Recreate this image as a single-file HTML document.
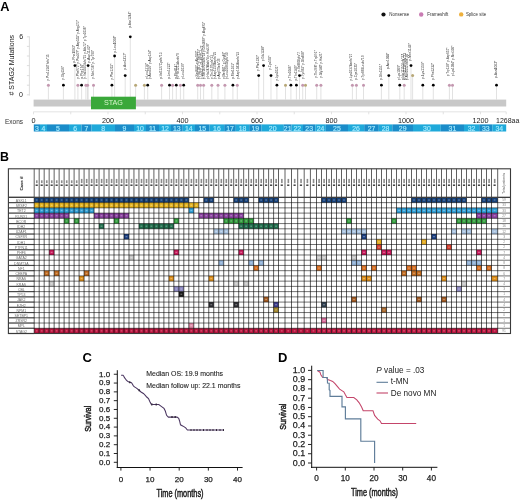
<!DOCTYPE html>
<html><head><meta charset="utf-8"><style>
html,body{margin:0;padding:0;background:#fff;}
svg{display:block;will-change:transform;}
text{font-family:"Liberation Sans", sans-serif;}
</style></head><body>
<svg width="520" height="500" viewBox="0 0 520 500">
<rect x="0" y="0" width="520" height="500" fill="#fff"/>
<text transform="translate(0.20,10.80)" text-anchor="start" fill="#000" style="font-size:12.8px;font-weight:bold;" >A</text>
<text transform="translate(14.20,65.20) rotate(-90)" text-anchor="middle" fill="#222" style="font-size:7.0px;" ># STAG2 Mutations</text>
<text transform="translate(21.10,39.20)" text-anchor="middle" fill="#1a1a1a" style="font-size:7.0px;" >6</text>
<text transform="translate(21.00,96.70)" text-anchor="middle" fill="#1a1a1a" style="font-size:7.0px;" >0</text>
<line x1="29.40" y1="36.40" x2="29.40" y2="95.60" stroke="#d4d4d4" stroke-width="0.8" />
<line x1="26.90" y1="94.80" x2="29.40" y2="94.80" stroke="#d4d4d4" stroke-width="0.8" />
<line x1="26.90" y1="85.20" x2="29.40" y2="85.20" stroke="#d4d4d4" stroke-width="0.8" />
<line x1="26.90" y1="75.60" x2="29.40" y2="75.60" stroke="#d4d4d4" stroke-width="0.8" />
<line x1="26.90" y1="65.60" x2="29.40" y2="65.60" stroke="#d4d4d4" stroke-width="0.8" />
<line x1="26.90" y1="56.00" x2="29.40" y2="56.00" stroke="#d4d4d4" stroke-width="0.8" />
<line x1="26.90" y1="46.40" x2="29.40" y2="46.40" stroke="#d4d4d4" stroke-width="0.8" />
<line x1="26.90" y1="36.80" x2="29.40" y2="36.80" stroke="#d4d4d4" stroke-width="0.8" />
<circle cx="383.50" cy="14.50" r="2.10" fill="#111" />
<text transform="translate(389.30,16.10)" text-anchor="start" fill="#333" style="font-size:4.45px;" >Nonsense</text>
<circle cx="421.20" cy="14.50" r="2.20" fill="#c97cb3" />
<text transform="translate(427.30,16.10)" text-anchor="start" fill="#333" style="font-size:4.45px;" >Frameshift</text>
<circle cx="461.20" cy="14.40" r="2.20" fill="#eeb03c" />
<text transform="translate(465.90,16.10)" text-anchor="start" fill="#333" style="font-size:4.45px;" >Splice site</text>
<line x1="48.40" y1="99.50" x2="48.40" y2="85.20" stroke="#d6d6d6" stroke-width="0.7" />
<line x1="63.40" y1="99.50" x2="63.40" y2="85.20" stroke="#d6d6d6" stroke-width="0.7" />
<line x1="74.90" y1="99.50" x2="74.90" y2="65.60" stroke="#d6d6d6" stroke-width="0.7" />
<line x1="77.90" y1="99.50" x2="77.90" y2="85.20" stroke="#d6d6d6" stroke-width="0.7" />
<line x1="81.60" y1="99.50" x2="81.60" y2="85.20" stroke="#d6d6d6" stroke-width="0.7" />
<line x1="85.90" y1="99.50" x2="85.90" y2="85.20" stroke="#d6d6d6" stroke-width="0.7" />
<line x1="87.60" y1="99.50" x2="87.60" y2="85.20" stroke="#d6d6d6" stroke-width="0.7" />
<line x1="88.10" y1="99.50" x2="88.10" y2="65.60" stroke="#d6d6d6" stroke-width="0.7" />
<line x1="93.50" y1="99.50" x2="93.50" y2="85.20" stroke="#d6d6d6" stroke-width="0.7" />
<line x1="111.90" y1="99.50" x2="111.90" y2="85.20" stroke="#d6d6d6" stroke-width="0.7" />
<line x1="114.60" y1="99.50" x2="114.60" y2="56.00" stroke="#d6d6d6" stroke-width="0.7" />
<line x1="125.20" y1="99.50" x2="125.20" y2="75.60" stroke="#d6d6d6" stroke-width="0.7" />
<line x1="130.30" y1="99.50" x2="130.30" y2="36.80" stroke="#d6d6d6" stroke-width="0.7" />
<line x1="135.60" y1="99.50" x2="135.60" y2="85.20" stroke="#d6d6d6" stroke-width="0.7" />
<line x1="144.40" y1="99.50" x2="144.40" y2="85.20" stroke="#d6d6d6" stroke-width="0.7" />
<line x1="147.70" y1="99.50" x2="147.70" y2="85.20" stroke="#d6d6d6" stroke-width="0.7" />
<line x1="161.60" y1="99.50" x2="161.60" y2="85.20" stroke="#d6d6d6" stroke-width="0.7" />
<line x1="169.50" y1="99.50" x2="169.50" y2="85.20" stroke="#d6d6d6" stroke-width="0.7" />
<line x1="172.60" y1="99.50" x2="172.60" y2="85.20" stroke="#d6d6d6" stroke-width="0.7" />
<line x1="176.30" y1="99.50" x2="176.30" y2="85.20" stroke="#d6d6d6" stroke-width="0.7" />
<line x1="180.40" y1="99.50" x2="180.40" y2="85.20" stroke="#d6d6d6" stroke-width="0.7" />
<line x1="183.70" y1="99.50" x2="183.70" y2="85.20" stroke="#d6d6d6" stroke-width="0.7" />
<line x1="197.70" y1="99.50" x2="197.70" y2="85.20" stroke="#d6d6d6" stroke-width="0.7" />
<line x1="200.50" y1="99.50" x2="200.50" y2="85.20" stroke="#d6d6d6" stroke-width="0.7" />
<line x1="203.60" y1="99.50" x2="203.60" y2="85.20" stroke="#d6d6d6" stroke-width="0.7" />
<line x1="211.80" y1="99.50" x2="211.80" y2="85.20" stroke="#d6d6d6" stroke-width="0.7" />
<line x1="218.00" y1="99.50" x2="218.00" y2="85.20" stroke="#d6d6d6" stroke-width="0.7" />
<line x1="224.90" y1="99.50" x2="224.90" y2="85.20" stroke="#d6d6d6" stroke-width="0.7" />
<line x1="232.90" y1="99.50" x2="232.90" y2="85.20" stroke="#d6d6d6" stroke-width="0.7" />
<line x1="237.30" y1="99.50" x2="237.30" y2="85.20" stroke="#d6d6d6" stroke-width="0.7" />
<line x1="258.70" y1="99.50" x2="258.70" y2="75.60" stroke="#d6d6d6" stroke-width="0.7" />
<line x1="263.60" y1="99.50" x2="263.60" y2="65.60" stroke="#d6d6d6" stroke-width="0.7" />
<line x1="271.00" y1="99.50" x2="271.00" y2="75.60" stroke="#d6d6d6" stroke-width="0.7" />
<line x1="276.90" y1="99.50" x2="276.90" y2="85.20" stroke="#d6d6d6" stroke-width="0.7" />
<line x1="285.50" y1="99.50" x2="285.50" y2="85.20" stroke="#d6d6d6" stroke-width="0.7" />
<line x1="290.90" y1="99.50" x2="290.90" y2="85.20" stroke="#d6d6d6" stroke-width="0.7" />
<line x1="296.40" y1="99.50" x2="296.40" y2="85.20" stroke="#d6d6d6" stroke-width="0.7" />
<line x1="299.50" y1="99.50" x2="299.50" y2="75.60" stroke="#d6d6d6" stroke-width="0.7" />
<line x1="302.70" y1="99.50" x2="302.70" y2="85.20" stroke="#d6d6d6" stroke-width="0.7" />
<line x1="305.50" y1="99.50" x2="305.50" y2="85.20" stroke="#d6d6d6" stroke-width="0.7" />
<line x1="316.70" y1="99.50" x2="316.70" y2="85.20" stroke="#d6d6d6" stroke-width="0.7" />
<line x1="320.90" y1="99.50" x2="320.90" y2="85.20" stroke="#d6d6d6" stroke-width="0.7" />
<line x1="352.40" y1="99.50" x2="352.40" y2="85.20" stroke="#d6d6d6" stroke-width="0.7" />
<line x1="356.40" y1="99.50" x2="356.40" y2="85.20" stroke="#d6d6d6" stroke-width="0.7" />
<line x1="363.50" y1="99.50" x2="363.50" y2="85.20" stroke="#d6d6d6" stroke-width="0.7" />
<line x1="381.40" y1="99.50" x2="381.40" y2="85.20" stroke="#d6d6d6" stroke-width="0.7" />
<line x1="388.80" y1="99.50" x2="388.80" y2="75.60" stroke="#d6d6d6" stroke-width="0.7" />
<line x1="399.80" y1="99.50" x2="399.80" y2="85.20" stroke="#d6d6d6" stroke-width="0.7" />
<line x1="404.20" y1="99.50" x2="404.20" y2="85.20" stroke="#d6d6d6" stroke-width="0.7" />
<line x1="411.00" y1="99.50" x2="411.00" y2="65.60" stroke="#d6d6d6" stroke-width="0.7" />
<line x1="412.60" y1="99.50" x2="412.60" y2="75.60" stroke="#d6d6d6" stroke-width="0.7" />
<line x1="422.80" y1="99.50" x2="422.80" y2="85.20" stroke="#d6d6d6" stroke-width="0.7" />
<line x1="433.30" y1="99.50" x2="433.30" y2="85.20" stroke="#d6d6d6" stroke-width="0.7" />
<line x1="449.40" y1="99.50" x2="449.40" y2="85.20" stroke="#d6d6d6" stroke-width="0.7" />
<line x1="452.50" y1="99.50" x2="452.50" y2="85.20" stroke="#d6d6d6" stroke-width="0.7" />
<line x1="496.50" y1="99.50" x2="496.50" y2="85.20" stroke="#d6d6d6" stroke-width="0.7" />
<text transform="translate(49.30,80.50) rotate(-90)" text-anchor="start" fill="#333" style="font-size:3.1px;" textLength="26.10" lengthAdjust="spacingAndGlyphs" >p.Pro1214Thrfs*15</text>
<text transform="translate(64.30,79.70) rotate(-90)" text-anchor="start" fill="#333" style="font-size:3.1px;" textLength="13.60" lengthAdjust="spacingAndGlyphs" >p.Gly156*</text>
<text transform="translate(74.50,62.70) rotate(-90)" text-anchor="start" fill="#333" style="font-size:3.1px;" textLength="17.80" lengthAdjust="spacingAndGlyphs" >p.Phe1093*</text>
<text transform="translate(78.90,78.70) rotate(-90)" text-anchor="start" fill="#333" style="font-size:3.1px;" textLength="58.70" lengthAdjust="spacingAndGlyphs" >p.Phe972* p.Pro379* p.Asp555* p.Arg272*</text>
<text transform="translate(82.80,78.70) rotate(-90)" text-anchor="start" fill="#333" style="font-size:3.1px;" textLength="14.90" lengthAdjust="spacingAndGlyphs" >p.Phe174*</text>
<text transform="translate(86.30,78.70) rotate(-90)" text-anchor="start" fill="#333" style="font-size:3.1px;" textLength="52.50" lengthAdjust="spacingAndGlyphs" >p.Val516Glufs*15 p.Ala72* p.Tyr1038*</text>
<text transform="translate(90.10,63.00) rotate(-90)" text-anchor="start" fill="#333" style="font-size:3.1px;" textLength="18.10" lengthAdjust="spacingAndGlyphs" >p.Asp1142*</text>
<text transform="translate(93.80,78.70) rotate(-90)" text-anchor="start" fill="#333" style="font-size:3.1px;" textLength="28.70" lengthAdjust="spacingAndGlyphs" >p.Met738* p.Tyr790*</text>
<text transform="translate(113.10,79.60) rotate(-90)" text-anchor="start" fill="#333" style="font-size:3.1px;" textLength="16.10" lengthAdjust="spacingAndGlyphs" >p.Phe1215*</text>
<text transform="translate(115.50,52.70) rotate(-90)" text-anchor="start" fill="#333" style="font-size:3.1px;" textLength="17.10" lengthAdjust="spacingAndGlyphs" >p.Leu1008*</text>
<text transform="translate(126.10,69.70) rotate(-90)" text-anchor="start" fill="#333" style="font-size:3.1px;" textLength="17.00" lengthAdjust="spacingAndGlyphs" >p.Asn1217*</text>
<text transform="translate(130.90,27.80) rotate(-90)" text-anchor="start" fill="#333" style="font-size:3.1px;" textLength="16.40" lengthAdjust="spacingAndGlyphs" >p.Asn1244*</text>
<text transform="translate(147.50,79.00) rotate(-90)" text-anchor="start" fill="#333" style="font-size:3.1px;" textLength="15.90" lengthAdjust="spacingAndGlyphs" >p.Leu1214*</text>
<text transform="translate(151.30,79.00) rotate(-90)" text-anchor="start" fill="#333" style="font-size:3.1px;" textLength="29.10" lengthAdjust="spacingAndGlyphs" >p.Asn316* p.Asp124*</text>
<text transform="translate(162.30,79.00) rotate(-90)" text-anchor="start" fill="#333" style="font-size:3.1px;" textLength="26.40" lengthAdjust="spacingAndGlyphs" >p.Val1127Cysfs*13</text>
<text transform="translate(170.00,79.00) rotate(-90)" text-anchor="start" fill="#333" style="font-size:3.1px;" textLength="16.50" lengthAdjust="spacingAndGlyphs" >p.Leu1222*</text>
<text transform="translate(177.20,79.00) rotate(-90)" text-anchor="start" fill="#333" style="font-size:3.1px;" textLength="14.80" lengthAdjust="spacingAndGlyphs" >p.Phe814*</text>
<text transform="translate(179.40,79.00) rotate(-90)" text-anchor="start" fill="#333" style="font-size:3.1px;" textLength="25.80" lengthAdjust="spacingAndGlyphs" >p.Phe1211Asnfs*9</text>
<text transform="translate(184.30,79.00) rotate(-90)" text-anchor="start" fill="#333" style="font-size:3.1px;" textLength="15.90" lengthAdjust="spacingAndGlyphs" >p.Leu1039*</text>
<text transform="translate(197.70,79.00) rotate(-90)" text-anchor="start" fill="#333" style="font-size:3.1px;" textLength="28.20" lengthAdjust="spacingAndGlyphs" >p.Ser866* p.Ala910*</text>
<text transform="translate(200.30,79.00) rotate(-90)" text-anchor="start" fill="#333" style="font-size:3.1px;" textLength="29.90" lengthAdjust="spacingAndGlyphs" >p.His1081* p.Ser533*</text>
<text transform="translate(202.80,79.00) rotate(-90)" text-anchor="start" fill="#333" style="font-size:3.1px;" textLength="33.30" lengthAdjust="spacingAndGlyphs" >p.Val32* p.Glu882Thrfs*3</text>
<text transform="translate(205.40,79.00) rotate(-90)" text-anchor="start" fill="#333" style="font-size:3.1px;" textLength="57.10" lengthAdjust="spacingAndGlyphs" >p.Ser1091Glufs*14 p.Gln1069* p.Arg495*</text>
<text transform="translate(208.80,79.00) rotate(-90)" text-anchor="start" fill="#333" style="font-size:3.1px;" textLength="35.80" lengthAdjust="spacingAndGlyphs" >p.His247Alafs*4 p.His528*</text>
<text transform="translate(212.70,79.00) rotate(-90)" text-anchor="start" fill="#333" style="font-size:3.1px;" textLength="24.00" lengthAdjust="spacingAndGlyphs" >p.Thr319Tyrfs*13</text>
<text transform="translate(216.40,79.00) rotate(-90)" text-anchor="start" fill="#333" style="font-size:3.1px;" textLength="27.30" lengthAdjust="spacingAndGlyphs" >p.Asp1159Aspfs*25</text>
<text transform="translate(220.20,79.00) rotate(-90)" text-anchor="start" fill="#333" style="font-size:3.1px;" textLength="20.50" lengthAdjust="spacingAndGlyphs" >p.Arg67Ilefs*23</text>
<text transform="translate(224.90,79.00) rotate(-90)" text-anchor="start" fill="#333" style="font-size:3.1px;" textLength="27.30" lengthAdjust="spacingAndGlyphs" >p.Met861* p.Cys46*</text>
<text transform="translate(227.50,79.00) rotate(-90)" text-anchor="start" fill="#333" style="font-size:3.1px;" textLength="26.50" lengthAdjust="spacingAndGlyphs" >p.Leu1086Glyfs*30</text>
<text transform="translate(234.30,79.00) rotate(-90)" text-anchor="start" fill="#333" style="font-size:3.1px;" textLength="16.30" lengthAdjust="spacingAndGlyphs" >p.Met1161*</text>
<text transform="translate(238.50,79.00) rotate(-90)" text-anchor="start" fill="#333" style="font-size:3.1px;" textLength="27.30" lengthAdjust="spacingAndGlyphs" >p.Asp1043Asnfs*22</text>
<text transform="translate(258.70,70.90) rotate(-90)" text-anchor="start" fill="#333" style="font-size:3.1px;" textLength="15.90" lengthAdjust="spacingAndGlyphs" >p.Phe1232*</text>
<text transform="translate(263.60,61.20) rotate(-90)" text-anchor="start" fill="#333" style="font-size:3.1px;" textLength="15.40" lengthAdjust="spacingAndGlyphs" >p.Glu1238*</text>
<text transform="translate(271.20,69.80) rotate(-90)" text-anchor="start" fill="#333" style="font-size:3.1px;" textLength="14.30" lengthAdjust="spacingAndGlyphs" >p.Cys592*</text>
<text transform="translate(278.40,80.60) rotate(-90)" text-anchor="start" fill="#333" style="font-size:3.1px;" textLength="15.40" lengthAdjust="spacingAndGlyphs" >p.Lys1021*</text>
<text transform="translate(291.00,80.60) rotate(-90)" text-anchor="start" fill="#333" style="font-size:3.1px;" textLength="15.40" lengthAdjust="spacingAndGlyphs" >p.Thr1046*</text>
<text transform="translate(296.70,80.60) rotate(-90)" text-anchor="start" fill="#333" style="font-size:3.1px;" textLength="15.40" lengthAdjust="spacingAndGlyphs" >p.Thr1149*</text>
<text transform="translate(299.60,71.50) rotate(-90)" text-anchor="start" fill="#333" style="font-size:3.1px;" textLength="19.40" lengthAdjust="spacingAndGlyphs" >p.Ile88Glyfs*7</text>
<text transform="translate(304.10,78.90) rotate(-90)" text-anchor="start" fill="#333" style="font-size:3.1px;" textLength="27.90" lengthAdjust="spacingAndGlyphs" >p.Tyr963* p.Gln468*</text>
<text transform="translate(316.70,77.80) rotate(-90)" text-anchor="start" fill="#333" style="font-size:3.1px;" textLength="27.40" lengthAdjust="spacingAndGlyphs" >p.Thr268* p.Trp591*</text>
<text transform="translate(322.40,77.80) rotate(-90)" text-anchor="start" fill="#333" style="font-size:3.1px;" textLength="25.70" lengthAdjust="spacingAndGlyphs" >p.Gly140* p.His21*</text>
<text transform="translate(352.20,80.60) rotate(-90)" text-anchor="start" fill="#333" style="font-size:3.1px;" textLength="26.80" lengthAdjust="spacingAndGlyphs" >p.Lys1037Asnfs*27</text>
<text transform="translate(357.10,80.00) rotate(-90)" text-anchor="start" fill="#333" style="font-size:3.1px;" textLength="17.10" lengthAdjust="spacingAndGlyphs" >p.Cys1035*</text>
<text transform="translate(364.10,80.00) rotate(-90)" text-anchor="start" fill="#333" style="font-size:3.1px;" textLength="24.50" lengthAdjust="spacingAndGlyphs" >p.Tyr869Leufs*19</text>
<text transform="translate(381.80,80.00) rotate(-90)" text-anchor="start" fill="#333" style="font-size:3.1px;" textLength="16.00" lengthAdjust="spacingAndGlyphs" >p.Gln1151*</text>
<text transform="translate(389.20,69.20) rotate(-90)" text-anchor="start" fill="#333" style="font-size:3.1px;" textLength="16.50" lengthAdjust="spacingAndGlyphs" >p.Asn1038*</text>
<text transform="translate(399.90,80.20) rotate(-90)" text-anchor="start" fill="#333" style="font-size:3.1px;" textLength="15.50" lengthAdjust="spacingAndGlyphs" >p.Lys1069*</text>
<text transform="translate(403.90,80.20) rotate(-90)" text-anchor="start" fill="#333" style="font-size:3.1px;" textLength="26.20" lengthAdjust="spacingAndGlyphs" >p.His1111Glufs*27</text>
<text transform="translate(405.90,80.20) rotate(-90)" text-anchor="start" fill="#333" style="font-size:3.1px;" textLength="27.20" lengthAdjust="spacingAndGlyphs" >p.Gln1113Phefs*23</text>
<text transform="translate(407.90,80.20) rotate(-90)" text-anchor="start" fill="#333" style="font-size:3.1px;" textLength="26.20" lengthAdjust="spacingAndGlyphs" >p.Asn1052Valfs*24</text>
<text transform="translate(411.30,61.00) rotate(-90)" text-anchor="start" fill="#333" style="font-size:3.1px;" textLength="18.00" lengthAdjust="spacingAndGlyphs" >p.Met1143*</text>
<text transform="translate(423.70,79.00) rotate(-90)" text-anchor="start" fill="#333" style="font-size:3.1px;" textLength="17.40" lengthAdjust="spacingAndGlyphs" >p.Lys1159*</text>
<text transform="translate(434.20,80.00) rotate(-90)" text-anchor="start" fill="#333" style="font-size:3.1px;" textLength="17.10" lengthAdjust="spacingAndGlyphs" >p.Phe1232*</text>
<text transform="translate(449.00,76.30) rotate(-90)" text-anchor="start" fill="#333" style="font-size:3.1px;" textLength="28.80" lengthAdjust="spacingAndGlyphs" >p.Trp128* p.Asp657*</text>
<text transform="translate(454.00,76.30) rotate(-90)" text-anchor="start" fill="#333" style="font-size:3.1px;" textLength="30.70" lengthAdjust="spacingAndGlyphs" >p.Lys1084* p.Met306*</text>
<text transform="translate(497.40,78.00) rotate(-90)" text-anchor="start" fill="#333" style="font-size:3.1px;" textLength="17.40" lengthAdjust="spacingAndGlyphs" >p.Asn1063*</text>
<circle cx="48.40" cy="85.20" r="1.50" fill="#c498b0" />
<circle cx="63.40" cy="85.20" r="1.40" fill="#000000" />
<circle cx="74.90" cy="65.60" r="1.40" fill="#000000" />
<circle cx="77.90" cy="85.20" r="1.50" fill="#c498b0" />
<circle cx="81.60" cy="85.20" r="1.40" fill="#000000" />
<circle cx="85.90" cy="85.20" r="1.50" fill="#c498b0" />
<circle cx="87.60" cy="85.20" r="1.50" fill="#c498b0" />
<circle cx="88.10" cy="65.60" r="1.40" fill="#000000" />
<circle cx="93.50" cy="85.20" r="1.50" fill="#c498b0" />
<circle cx="111.90" cy="85.20" r="1.40" fill="#000000" />
<circle cx="114.60" cy="56.00" r="1.40" fill="#000000" />
<circle cx="125.20" cy="75.60" r="1.40" fill="#000000" />
<circle cx="130.30" cy="36.80" r="1.40" fill="#000000" />
<circle cx="135.60" cy="85.20" r="1.50" fill="#b8a878" />
<circle cx="144.40" cy="85.20" r="1.50" fill="#b8a878" />
<circle cx="147.70" cy="85.20" r="1.40" fill="#000000" />
<circle cx="161.60" cy="85.20" r="1.50" fill="#c498b0" />
<circle cx="169.50" cy="85.20" r="1.40" fill="#000000" />
<circle cx="172.60" cy="85.20" r="1.50" fill="#c498b0" />
<circle cx="176.30" cy="85.20" r="1.40" fill="#000000" />
<circle cx="180.40" cy="85.20" r="1.50" fill="#c498b0" />
<circle cx="183.70" cy="85.20" r="1.40" fill="#000000" />
<circle cx="197.70" cy="85.20" r="1.50" fill="#c498b0" />
<circle cx="200.50" cy="85.20" r="1.50" fill="#c498b0" />
<circle cx="203.60" cy="85.20" r="1.50" fill="#c498b0" />
<circle cx="211.80" cy="85.20" r="1.50" fill="#c498b0" />
<circle cx="218.00" cy="85.20" r="1.50" fill="#c498b0" />
<circle cx="224.90" cy="85.20" r="1.50" fill="#c498b0" />
<circle cx="232.90" cy="85.20" r="1.40" fill="#000000" />
<circle cx="237.30" cy="85.20" r="1.50" fill="#c498b0" />
<circle cx="258.70" cy="75.60" r="1.40" fill="#000000" />
<circle cx="263.60" cy="65.60" r="1.40" fill="#000000" />
<circle cx="271.00" cy="75.60" r="1.40" fill="#000000" />
<circle cx="276.90" cy="85.20" r="1.40" fill="#000000" />
<circle cx="285.50" cy="85.20" r="1.50" fill="#b8a878" />
<circle cx="290.90" cy="85.20" r="1.40" fill="#000000" />
<circle cx="296.40" cy="85.20" r="1.40" fill="#000000" />
<circle cx="299.50" cy="75.60" r="1.40" fill="#000000" />
<circle cx="302.70" cy="85.20" r="1.50" fill="#c498b0" />
<circle cx="305.50" cy="85.20" r="1.50" fill="#b8a878" />
<circle cx="316.70" cy="85.20" r="1.50" fill="#c498b0" />
<circle cx="320.90" cy="85.20" r="1.50" fill="#c498b0" />
<circle cx="352.40" cy="85.20" r="1.50" fill="#c498b0" />
<circle cx="356.40" cy="85.20" r="1.50" fill="#c498b0" />
<circle cx="363.50" cy="85.20" r="1.50" fill="#c498b0" />
<circle cx="381.40" cy="85.20" r="1.40" fill="#000000" />
<circle cx="388.80" cy="75.60" r="1.40" fill="#000000" />
<circle cx="399.80" cy="85.20" r="1.40" fill="#000000" />
<circle cx="404.20" cy="85.20" r="1.50" fill="#c498b0" />
<circle cx="411.00" cy="65.60" r="1.40" fill="#000000" />
<circle cx="412.60" cy="75.60" r="1.50" fill="#b8a878" />
<circle cx="422.80" cy="85.20" r="1.40" fill="#000000" />
<circle cx="433.30" cy="85.20" r="1.40" fill="#000000" />
<circle cx="449.40" cy="85.20" r="1.50" fill="#c498b0" />
<circle cx="452.50" cy="85.20" r="1.50" fill="#c498b0" />
<circle cx="496.50" cy="85.20" r="1.40" fill="#000000" />
<rect x="33.60" y="99.60" width="472.60" height="6.90" fill="#c8c8c8" />
<rect x="91.00" y="96.70" width="44.90" height="12.60" fill="#3aa83a" />
<text transform="translate(113.40,105.40)" text-anchor="middle" fill="#d8f5cc" style="font-size:7.2px;" >STAG</text>
<line x1="33.50" y1="111.80" x2="506.20" y2="111.80" stroke="#dcdcdc" stroke-width="0.8" />
<line x1="33.50" y1="111.80" x2="33.50" y2="114.30" stroke="#dcdcdc" stroke-width="0.8" />
<line x1="70.75" y1="111.80" x2="70.75" y2="114.30" stroke="#dcdcdc" stroke-width="0.8" />
<line x1="108.00" y1="111.80" x2="108.00" y2="114.30" stroke="#dcdcdc" stroke-width="0.8" />
<line x1="145.25" y1="111.80" x2="145.25" y2="114.30" stroke="#dcdcdc" stroke-width="0.8" />
<line x1="182.50" y1="111.80" x2="182.50" y2="114.30" stroke="#dcdcdc" stroke-width="0.8" />
<line x1="219.75" y1="111.80" x2="219.75" y2="114.30" stroke="#dcdcdc" stroke-width="0.8" />
<line x1="257.00" y1="111.80" x2="257.00" y2="114.30" stroke="#dcdcdc" stroke-width="0.8" />
<line x1="294.25" y1="111.80" x2="294.25" y2="114.30" stroke="#dcdcdc" stroke-width="0.8" />
<line x1="331.50" y1="111.80" x2="331.50" y2="114.30" stroke="#dcdcdc" stroke-width="0.8" />
<line x1="368.75" y1="111.80" x2="368.75" y2="114.30" stroke="#dcdcdc" stroke-width="0.8" />
<line x1="406.00" y1="111.80" x2="406.00" y2="114.30" stroke="#dcdcdc" stroke-width="0.8" />
<line x1="443.25" y1="111.80" x2="443.25" y2="114.30" stroke="#dcdcdc" stroke-width="0.8" />
<line x1="480.50" y1="111.80" x2="480.50" y2="114.30" stroke="#dcdcdc" stroke-width="0.8" />
<line x1="506.20" y1="111.80" x2="506.20" y2="114.30" stroke="#dcdcdc" stroke-width="0.8" />
<text transform="translate(33.50,122.70) scale(1.120,1)" text-anchor="middle" fill="#222" style="font-size:6.5px;" >0</text>
<text transform="translate(108.00,122.70) scale(1.120,1)" text-anchor="middle" fill="#222" style="font-size:6.5px;" >200</text>
<text transform="translate(182.50,122.70) scale(1.120,1)" text-anchor="middle" fill="#222" style="font-size:6.5px;" >400</text>
<text transform="translate(257.00,122.70) scale(1.120,1)" text-anchor="middle" fill="#222" style="font-size:6.5px;" >600</text>
<text transform="translate(331.50,122.70) scale(1.120,1)" text-anchor="middle" fill="#222" style="font-size:6.5px;" >800</text>
<text transform="translate(406.00,122.70) scale(1.120,1)" text-anchor="middle" fill="#222" style="font-size:6.5px;" >1000</text>
<text transform="translate(480.50,122.70) scale(1.120,1)" text-anchor="middle" fill="#222" style="font-size:6.5px;" >1200</text>
<text transform="translate(496.00,122.70) scale(1.080,1)" text-anchor="start" fill="#222" style="font-size:6.5px;" >1268aa</text>
<text transform="translate(5.00,124.30)" text-anchor="start" fill="#333" style="font-size:6.5px;" >Exons</text>
<rect x="33.80" y="124.40" width="6.20" height="7.10" fill="#1a8cc9" />
<text transform="translate(36.90,131.00)" text-anchor="middle" fill="#a6ecff" style="font-size:6.9px;stroke:#a6ecff;stroke-width:0.15px;" >3</text>
<rect x="40.00" y="124.40" width="7.00" height="7.10" fill="#1fa9da" />
<text transform="translate(43.50,131.00)" text-anchor="middle" fill="#a6ecff" style="font-size:6.9px;stroke:#a6ecff;stroke-width:0.15px;" >4</text>
<rect x="47.00" y="124.40" width="22.00" height="7.10" fill="#1a8cc9" />
<text transform="translate(58.00,131.00)" text-anchor="middle" fill="#a6ecff" style="font-size:6.9px;stroke:#a6ecff;stroke-width:0.15px;" >5</text>
<rect x="69.00" y="124.40" width="12.50" height="7.10" fill="#1fa9da" />
<text transform="translate(75.25,131.00)" text-anchor="middle" fill="#a6ecff" style="font-size:6.9px;stroke:#a6ecff;stroke-width:0.15px;" >6</text>
<rect x="81.50" y="124.40" width="10.00" height="7.10" fill="#1a8cc9" />
<text transform="translate(86.50,131.00)" text-anchor="middle" fill="#a6ecff" style="font-size:6.9px;stroke:#a6ecff;stroke-width:0.15px;" >7</text>
<rect x="91.50" y="124.40" width="23.50" height="7.10" fill="#1fa9da" />
<text transform="translate(103.25,131.00)" text-anchor="middle" fill="#a6ecff" style="font-size:6.9px;stroke:#a6ecff;stroke-width:0.15px;" >8</text>
<rect x="115.00" y="124.40" width="19.00" height="7.10" fill="#1a8cc9" />
<text transform="translate(124.50,131.00)" text-anchor="middle" fill="#a6ecff" style="font-size:6.9px;stroke:#a6ecff;stroke-width:0.15px;" >9</text>
<rect x="134.00" y="124.40" width="12.00" height="7.10" fill="#1fa9da" />
<text transform="translate(140.00,131.00)" text-anchor="middle" fill="#a6ecff" style="font-size:6.9px;stroke:#a6ecff;stroke-width:0.15px;" >10</text>
<rect x="146.00" y="124.40" width="13.00" height="7.10" fill="#1a8cc9" />
<text transform="translate(152.50,131.00)" text-anchor="middle" fill="#a6ecff" style="font-size:6.9px;stroke:#a6ecff;stroke-width:0.15px;" >11</text>
<rect x="159.00" y="124.40" width="12.00" height="7.10" fill="#1fa9da" />
<text transform="translate(165.00,131.00)" text-anchor="middle" fill="#a6ecff" style="font-size:6.9px;stroke:#a6ecff;stroke-width:0.15px;" >12</text>
<rect x="171.00" y="124.40" width="11.70" height="7.10" fill="#1a8cc9" />
<text transform="translate(176.85,131.00)" text-anchor="middle" fill="#a6ecff" style="font-size:6.9px;stroke:#a6ecff;stroke-width:0.15px;" >13</text>
<rect x="182.70" y="124.40" width="12.30" height="7.10" fill="#1fa9da" />
<text transform="translate(188.85,131.00)" text-anchor="middle" fill="#a6ecff" style="font-size:6.9px;stroke:#a6ecff;stroke-width:0.15px;" >14</text>
<rect x="195.00" y="124.40" width="14.60" height="7.10" fill="#1a8cc9" />
<text transform="translate(202.30,131.00)" text-anchor="middle" fill="#a6ecff" style="font-size:6.9px;stroke:#a6ecff;stroke-width:0.15px;" >15</text>
<rect x="209.60" y="124.40" width="14.60" height="7.10" fill="#1fa9da" />
<text transform="translate(216.90,131.00)" text-anchor="middle" fill="#a6ecff" style="font-size:6.9px;stroke:#a6ecff;stroke-width:0.15px;" >16</text>
<rect x="224.20" y="124.40" width="11.60" height="7.10" fill="#1a8cc9" />
<text transform="translate(230.00,131.00)" text-anchor="middle" fill="#a6ecff" style="font-size:6.9px;stroke:#a6ecff;stroke-width:0.15px;" >17</text>
<rect x="235.80" y="124.40" width="13.40" height="7.10" fill="#1fa9da" />
<text transform="translate(242.50,131.00)" text-anchor="middle" fill="#a6ecff" style="font-size:6.9px;stroke:#a6ecff;stroke-width:0.15px;" >18</text>
<rect x="249.20" y="124.40" width="12.30" height="7.10" fill="#1a8cc9" />
<text transform="translate(255.35,131.00)" text-anchor="middle" fill="#a6ecff" style="font-size:6.9px;stroke:#a6ecff;stroke-width:0.15px;" >19</text>
<rect x="261.50" y="124.40" width="22.30" height="7.10" fill="#1fa9da" />
<text transform="translate(272.65,131.00)" text-anchor="middle" fill="#a6ecff" style="font-size:6.9px;stroke:#a6ecff;stroke-width:0.15px;" >20</text>
<rect x="283.80" y="124.40" width="7.70" height="7.10" fill="#1a8cc9" />
<text transform="translate(287.65,131.00)" text-anchor="middle" fill="#a6ecff" style="font-size:6.9px;stroke:#a6ecff;stroke-width:0.15px;" >21</text>
<rect x="291.50" y="124.40" width="11.50" height="7.10" fill="#1fa9da" />
<text transform="translate(297.25,131.00)" text-anchor="middle" fill="#a6ecff" style="font-size:6.9px;stroke:#a6ecff;stroke-width:0.15px;" >22</text>
<rect x="303.00" y="124.40" width="12.40" height="7.10" fill="#1a8cc9" />
<text transform="translate(309.20,131.00)" text-anchor="middle" fill="#a6ecff" style="font-size:6.9px;stroke:#a6ecff;stroke-width:0.15px;" >23</text>
<rect x="315.40" y="124.40" width="10.40" height="7.10" fill="#1fa9da" />
<text transform="translate(320.60,131.00)" text-anchor="middle" fill="#a6ecff" style="font-size:6.9px;stroke:#a6ecff;stroke-width:0.15px;" >24</text>
<rect x="325.80" y="124.40" width="22.20" height="7.10" fill="#1a8cc9" />
<text transform="translate(336.90,131.00)" text-anchor="middle" fill="#a6ecff" style="font-size:6.9px;stroke:#a6ecff;stroke-width:0.15px;" >25</text>
<rect x="348.00" y="124.40" width="16.20" height="7.10" fill="#1fa9da" />
<text transform="translate(356.10,131.00)" text-anchor="middle" fill="#a6ecff" style="font-size:6.9px;stroke:#a6ecff;stroke-width:0.15px;" >26</text>
<rect x="364.20" y="124.40" width="14.60" height="7.10" fill="#1a8cc9" />
<text transform="translate(371.50,131.00)" text-anchor="middle" fill="#a6ecff" style="font-size:6.9px;stroke:#a6ecff;stroke-width:0.15px;" >27</text>
<rect x="378.80" y="124.40" width="13.50" height="7.10" fill="#1fa9da" />
<text transform="translate(385.55,131.00)" text-anchor="middle" fill="#a6ecff" style="font-size:6.9px;stroke:#a6ecff;stroke-width:0.15px;" >28</text>
<rect x="392.30" y="124.40" width="20.70" height="7.10" fill="#1a8cc9" />
<text transform="translate(402.65,131.00)" text-anchor="middle" fill="#a6ecff" style="font-size:6.9px;stroke:#a6ecff;stroke-width:0.15px;" >29</text>
<rect x="413.00" y="124.40" width="27.80" height="7.10" fill="#1fa9da" />
<text transform="translate(426.90,131.00)" text-anchor="middle" fill="#a6ecff" style="font-size:6.9px;stroke:#a6ecff;stroke-width:0.15px;" >30</text>
<rect x="440.80" y="124.40" width="23.20" height="7.10" fill="#1a8cc9" />
<text transform="translate(452.40,131.00)" text-anchor="middle" fill="#a6ecff" style="font-size:6.9px;stroke:#a6ecff;stroke-width:0.15px;" >31</text>
<rect x="464.00" y="124.40" width="15.20" height="7.10" fill="#1fa9da" />
<text transform="translate(471.60,131.00)" text-anchor="middle" fill="#a6ecff" style="font-size:6.9px;stroke:#a6ecff;stroke-width:0.15px;" >32</text>
<rect x="479.20" y="124.40" width="13.10" height="7.10" fill="#1a8cc9" />
<text transform="translate(485.75,131.00)" text-anchor="middle" fill="#a6ecff" style="font-size:6.9px;stroke:#a6ecff;stroke-width:0.15px;" >33</text>
<rect x="492.30" y="124.40" width="13.90" height="7.10" fill="#1fa9da" />
<text transform="translate(499.25,131.00)" text-anchor="middle" fill="#a6ecff" style="font-size:6.9px;stroke:#a6ecff;stroke-width:0.15px;" >34</text>
<text transform="translate(0.10,160.70)" text-anchor="start" fill="#000" style="font-size:12.4px;font-weight:bold;" >B</text>
<rect x="8.40" y="168.80" width="502.10" height="164.70" fill="#ffffff" />
<rect x="34.20" y="197.40" width="4.99" height="5.23" fill="#143f78" />
<rect x="35.79" y="199.42" width="1.80" height="1.20" fill="rgba(255,255,255,0.35)" />
<rect x="39.19" y="197.40" width="4.99" height="5.23" fill="#143f78" />
<rect x="40.78" y="199.42" width="1.80" height="1.20" fill="rgba(255,255,255,0.35)" />
<rect x="44.18" y="197.40" width="4.99" height="5.23" fill="#143f78" />
<rect x="45.77" y="199.42" width="1.80" height="1.20" fill="rgba(255,255,255,0.35)" />
<rect x="49.16" y="197.40" width="4.99" height="5.23" fill="#143f78" />
<rect x="50.76" y="199.42" width="1.80" height="1.20" fill="rgba(255,255,255,0.35)" />
<rect x="54.15" y="197.40" width="4.99" height="5.23" fill="#143f78" />
<rect x="55.74" y="199.42" width="1.80" height="1.20" fill="rgba(255,255,255,0.35)" />
<rect x="59.14" y="197.40" width="4.99" height="5.23" fill="#143f78" />
<rect x="60.73" y="199.42" width="1.80" height="1.20" fill="rgba(255,255,255,0.35)" />
<rect x="64.12" y="197.40" width="4.99" height="5.23" fill="#143f78" />
<rect x="65.72" y="199.42" width="1.80" height="1.20" fill="rgba(255,255,255,0.35)" />
<rect x="69.11" y="197.40" width="4.99" height="5.23" fill="#143f78" />
<rect x="70.71" y="199.42" width="1.80" height="1.20" fill="rgba(255,255,255,0.35)" />
<rect x="74.10" y="197.40" width="4.99" height="5.23" fill="#143f78" />
<rect x="75.69" y="199.42" width="1.80" height="1.20" fill="rgba(255,255,255,0.35)" />
<rect x="79.09" y="197.40" width="4.99" height="5.23" fill="#143f78" />
<rect x="80.68" y="199.42" width="1.80" height="1.20" fill="rgba(255,255,255,0.35)" />
<rect x="84.08" y="197.40" width="4.99" height="5.23" fill="#143f78" />
<rect x="85.67" y="199.42" width="1.80" height="1.20" fill="rgba(255,255,255,0.35)" />
<rect x="89.06" y="197.40" width="4.99" height="5.23" fill="#143f78" />
<rect x="90.66" y="199.42" width="1.80" height="1.20" fill="rgba(255,255,255,0.35)" />
<rect x="94.05" y="197.40" width="4.99" height="5.23" fill="#143f78" />
<rect x="95.64" y="199.42" width="1.80" height="1.20" fill="rgba(255,255,255,0.35)" />
<rect x="99.04" y="197.40" width="4.99" height="5.23" fill="#143f78" />
<rect x="100.63" y="199.42" width="1.80" height="1.20" fill="rgba(255,255,255,0.35)" />
<rect x="104.03" y="197.40" width="4.99" height="5.23" fill="#143f78" />
<rect x="105.62" y="199.42" width="1.80" height="1.20" fill="rgba(255,255,255,0.35)" />
<rect x="109.01" y="197.40" width="4.99" height="5.23" fill="#143f78" />
<rect x="110.61" y="199.42" width="1.80" height="1.20" fill="rgba(255,255,255,0.35)" />
<rect x="114.00" y="197.40" width="4.99" height="5.23" fill="#143f78" />
<rect x="115.59" y="199.42" width="1.80" height="1.20" fill="rgba(255,255,255,0.35)" />
<rect x="118.99" y="197.40" width="4.99" height="5.23" fill="#143f78" />
<rect x="120.58" y="199.42" width="1.80" height="1.20" fill="rgba(255,255,255,0.35)" />
<rect x="123.97" y="197.40" width="4.99" height="5.23" fill="#143f78" />
<rect x="125.57" y="199.42" width="1.80" height="1.20" fill="rgba(255,255,255,0.35)" />
<rect x="128.96" y="197.40" width="4.99" height="5.23" fill="#143f78" />
<rect x="130.56" y="199.42" width="1.80" height="1.20" fill="rgba(255,255,255,0.35)" />
<rect x="133.95" y="197.40" width="4.99" height="5.23" fill="#143f78" />
<rect x="135.54" y="199.42" width="1.80" height="1.20" fill="rgba(255,255,255,0.35)" />
<rect x="138.94" y="197.40" width="4.99" height="5.23" fill="#143f78" />
<rect x="140.53" y="199.42" width="1.80" height="1.20" fill="rgba(255,255,255,0.35)" />
<rect x="143.93" y="197.40" width="4.99" height="5.23" fill="#143f78" />
<rect x="145.52" y="199.42" width="1.80" height="1.20" fill="rgba(255,255,255,0.35)" />
<rect x="148.91" y="197.40" width="4.99" height="5.23" fill="#143f78" />
<rect x="150.51" y="199.42" width="1.80" height="1.20" fill="rgba(255,255,255,0.35)" />
<rect x="153.90" y="197.40" width="4.99" height="5.23" fill="#143f78" />
<rect x="155.49" y="199.42" width="1.80" height="1.20" fill="rgba(255,255,255,0.35)" />
<rect x="158.89" y="197.40" width="4.99" height="5.23" fill="#143f78" />
<rect x="160.48" y="199.42" width="1.80" height="1.20" fill="rgba(255,255,255,0.35)" />
<rect x="163.88" y="197.40" width="4.99" height="5.23" fill="#143f78" />
<rect x="165.47" y="199.42" width="1.80" height="1.20" fill="rgba(255,255,255,0.35)" />
<rect x="168.86" y="197.40" width="4.99" height="5.23" fill="#143f78" />
<rect x="170.46" y="199.42" width="1.80" height="1.20" fill="rgba(255,255,255,0.35)" />
<rect x="173.85" y="197.40" width="4.99" height="5.23" fill="#143f78" />
<rect x="175.44" y="199.42" width="1.80" height="1.20" fill="rgba(255,255,255,0.35)" />
<rect x="178.84" y="197.40" width="4.99" height="5.23" fill="#143f78" />
<rect x="180.43" y="199.42" width="1.80" height="1.20" fill="rgba(255,255,255,0.35)" />
<rect x="183.82" y="197.40" width="4.99" height="5.23" fill="#143f78" />
<rect x="185.42" y="199.42" width="1.80" height="1.20" fill="rgba(255,255,255,0.35)" />
<rect x="203.77" y="197.40" width="4.99" height="5.23" fill="#143f78" />
<rect x="205.37" y="199.42" width="1.80" height="1.20" fill="rgba(255,255,255,0.35)" />
<rect x="208.76" y="197.40" width="4.99" height="5.23" fill="#143f78" />
<rect x="210.36" y="199.42" width="1.80" height="1.20" fill="rgba(255,255,255,0.35)" />
<rect x="233.70" y="197.40" width="4.99" height="5.23" fill="#143f78" />
<rect x="235.29" y="199.42" width="1.80" height="1.20" fill="rgba(255,255,255,0.35)" />
<rect x="238.69" y="197.40" width="4.99" height="5.23" fill="#143f78" />
<rect x="240.28" y="199.42" width="1.80" height="1.20" fill="rgba(255,255,255,0.35)" />
<rect x="243.68" y="197.40" width="4.99" height="5.23" fill="#143f78" />
<rect x="245.27" y="199.42" width="1.80" height="1.20" fill="rgba(255,255,255,0.35)" />
<rect x="258.64" y="197.40" width="4.99" height="5.23" fill="#143f78" />
<rect x="260.23" y="199.42" width="1.80" height="1.20" fill="rgba(255,255,255,0.35)" />
<rect x="263.62" y="197.40" width="4.99" height="5.23" fill="#143f78" />
<rect x="265.22" y="199.42" width="1.80" height="1.20" fill="rgba(255,255,255,0.35)" />
<rect x="268.61" y="197.40" width="4.99" height="5.23" fill="#143f78" />
<rect x="270.21" y="199.42" width="1.80" height="1.20" fill="rgba(255,255,255,0.35)" />
<rect x="273.60" y="197.40" width="4.90" height="5.23" fill="#143f78" />
<rect x="275.15" y="199.42" width="1.80" height="1.20" fill="rgba(255,255,255,0.35)" />
<rect x="321.50" y="197.40" width="5.00" height="5.23" fill="#143f78" />
<rect x="323.10" y="199.42" width="1.80" height="1.20" fill="rgba(255,255,255,0.35)" />
<rect x="326.50" y="197.40" width="5.00" height="5.23" fill="#143f78" />
<rect x="328.10" y="199.42" width="1.80" height="1.20" fill="rgba(255,255,255,0.35)" />
<rect x="331.50" y="197.40" width="5.00" height="5.23" fill="#143f78" />
<rect x="333.10" y="199.42" width="1.80" height="1.20" fill="rgba(255,255,255,0.35)" />
<rect x="336.50" y="197.40" width="5.00" height="5.23" fill="#143f78" />
<rect x="338.10" y="199.42" width="1.80" height="1.20" fill="rgba(255,255,255,0.35)" />
<rect x="341.50" y="197.40" width="5.00" height="5.23" fill="#143f78" />
<rect x="343.10" y="199.42" width="1.80" height="1.20" fill="rgba(255,255,255,0.35)" />
<rect x="411.50" y="197.40" width="5.00" height="5.23" fill="#143f78" />
<rect x="413.10" y="199.42" width="1.80" height="1.20" fill="rgba(255,255,255,0.35)" />
<rect x="416.50" y="197.40" width="5.00" height="5.23" fill="#143f78" />
<rect x="418.10" y="199.42" width="1.80" height="1.20" fill="rgba(255,255,255,0.35)" />
<rect x="421.50" y="197.40" width="5.00" height="5.23" fill="#143f78" />
<rect x="423.10" y="199.42" width="1.80" height="1.20" fill="rgba(255,255,255,0.35)" />
<rect x="426.50" y="197.40" width="5.00" height="5.23" fill="#143f78" />
<rect x="428.10" y="199.42" width="1.80" height="1.20" fill="rgba(255,255,255,0.35)" />
<rect x="431.50" y="197.40" width="5.00" height="5.23" fill="#143f78" />
<rect x="433.10" y="199.42" width="1.80" height="1.20" fill="rgba(255,255,255,0.35)" />
<rect x="436.50" y="197.40" width="5.00" height="5.23" fill="#143f78" />
<rect x="438.10" y="199.42" width="1.80" height="1.20" fill="rgba(255,255,255,0.35)" />
<rect x="441.50" y="197.40" width="5.00" height="5.23" fill="#143f78" />
<rect x="443.10" y="199.42" width="1.80" height="1.20" fill="rgba(255,255,255,0.35)" />
<rect x="446.50" y="197.40" width="5.00" height="5.23" fill="#143f78" />
<rect x="448.10" y="199.42" width="1.80" height="1.20" fill="rgba(255,255,255,0.35)" />
<rect x="451.50" y="197.40" width="5.00" height="5.23" fill="#143f78" />
<rect x="453.10" y="199.42" width="1.80" height="1.20" fill="rgba(255,255,255,0.35)" />
<rect x="456.50" y="197.40" width="5.00" height="5.23" fill="#143f78" />
<rect x="458.10" y="199.42" width="1.80" height="1.20" fill="rgba(255,255,255,0.35)" />
<rect x="461.50" y="197.40" width="5.00" height="5.23" fill="#143f78" />
<rect x="463.10" y="199.42" width="1.80" height="1.20" fill="rgba(255,255,255,0.35)" />
<rect x="481.50" y="197.40" width="5.00" height="5.23" fill="#143f78" />
<rect x="483.10" y="199.42" width="1.80" height="1.20" fill="rgba(255,255,255,0.35)" />
<rect x="486.50" y="197.40" width="5.00" height="5.23" fill="#143f78" />
<rect x="488.10" y="199.42" width="1.80" height="1.20" fill="rgba(255,255,255,0.35)" />
<rect x="491.50" y="197.40" width="6.20" height="5.23" fill="#143f78" />
<rect x="493.70" y="199.42" width="1.80" height="1.20" fill="rgba(255,255,255,0.35)" />
<rect x="34.20" y="202.63" width="4.99" height="5.23" fill="#e6b41c" />
<rect x="35.79" y="204.65" width="1.80" height="1.20" fill="rgba(255,255,255,0.35)" />
<rect x="39.19" y="202.63" width="4.99" height="5.23" fill="#e6b41c" />
<rect x="40.78" y="204.65" width="1.80" height="1.20" fill="rgba(255,255,255,0.35)" />
<rect x="44.18" y="202.63" width="4.99" height="5.23" fill="#e6b41c" />
<rect x="45.77" y="204.65" width="1.80" height="1.20" fill="rgba(255,255,255,0.35)" />
<rect x="49.16" y="202.63" width="4.99" height="5.23" fill="#e6b41c" />
<rect x="50.76" y="204.65" width="1.80" height="1.20" fill="rgba(255,255,255,0.35)" />
<rect x="54.15" y="202.63" width="4.99" height="5.23" fill="#e6b41c" />
<rect x="55.74" y="204.65" width="1.80" height="1.20" fill="rgba(255,255,255,0.35)" />
<rect x="59.14" y="202.63" width="4.99" height="5.23" fill="#e6b41c" />
<rect x="60.73" y="204.65" width="1.80" height="1.20" fill="rgba(255,255,255,0.35)" />
<rect x="64.12" y="202.63" width="4.99" height="5.23" fill="#e6b41c" />
<rect x="65.72" y="204.65" width="1.80" height="1.20" fill="rgba(255,255,255,0.35)" />
<rect x="69.11" y="202.63" width="4.99" height="5.23" fill="#e6b41c" />
<rect x="70.71" y="204.65" width="1.80" height="1.20" fill="rgba(255,255,255,0.35)" />
<rect x="74.10" y="202.63" width="4.99" height="5.23" fill="#e6b41c" />
<rect x="75.69" y="204.65" width="1.80" height="1.20" fill="rgba(255,255,255,0.35)" />
<rect x="79.09" y="202.63" width="4.99" height="5.23" fill="#e6b41c" />
<rect x="80.68" y="204.65" width="1.80" height="1.20" fill="rgba(255,255,255,0.35)" />
<rect x="84.08" y="202.63" width="4.99" height="5.23" fill="#e6b41c" />
<rect x="85.67" y="204.65" width="1.80" height="1.20" fill="rgba(255,255,255,0.35)" />
<rect x="89.06" y="202.63" width="4.99" height="5.23" fill="#e6b41c" />
<rect x="90.66" y="204.65" width="1.80" height="1.20" fill="rgba(255,255,255,0.35)" />
<rect x="94.05" y="202.63" width="4.99" height="5.23" fill="#e6b41c" />
<rect x="95.64" y="204.65" width="1.80" height="1.20" fill="rgba(255,255,255,0.35)" />
<rect x="99.04" y="202.63" width="4.99" height="5.23" fill="#e6b41c" />
<rect x="100.63" y="204.65" width="1.80" height="1.20" fill="rgba(255,255,255,0.35)" />
<rect x="104.03" y="202.63" width="4.99" height="5.23" fill="#e6b41c" />
<rect x="105.62" y="204.65" width="1.80" height="1.20" fill="rgba(255,255,255,0.35)" />
<rect x="109.01" y="202.63" width="4.99" height="5.23" fill="#e6b41c" />
<rect x="110.61" y="204.65" width="1.80" height="1.20" fill="rgba(255,255,255,0.35)" />
<rect x="114.00" y="202.63" width="4.99" height="5.23" fill="#e6b41c" />
<rect x="115.59" y="204.65" width="1.80" height="1.20" fill="rgba(255,255,255,0.35)" />
<rect x="118.99" y="202.63" width="4.99" height="5.23" fill="#e6b41c" />
<rect x="120.58" y="204.65" width="1.80" height="1.20" fill="rgba(255,255,255,0.35)" />
<rect x="123.97" y="202.63" width="4.99" height="5.23" fill="#e6b41c" />
<rect x="125.57" y="204.65" width="1.80" height="1.20" fill="rgba(255,255,255,0.35)" />
<rect x="128.96" y="202.63" width="4.99" height="5.23" fill="#e6b41c" />
<rect x="130.56" y="204.65" width="1.80" height="1.20" fill="rgba(255,255,255,0.35)" />
<rect x="133.95" y="202.63" width="4.99" height="5.23" fill="#e6b41c" />
<rect x="135.54" y="204.65" width="1.80" height="1.20" fill="rgba(255,255,255,0.35)" />
<rect x="138.94" y="202.63" width="4.99" height="5.23" fill="#e6b41c" />
<rect x="140.53" y="204.65" width="1.80" height="1.20" fill="rgba(255,255,255,0.35)" />
<rect x="143.93" y="202.63" width="4.99" height="5.23" fill="#e6b41c" />
<rect x="145.52" y="204.65" width="1.80" height="1.20" fill="rgba(255,255,255,0.35)" />
<rect x="148.91" y="202.63" width="4.99" height="5.23" fill="#e6b41c" />
<rect x="150.51" y="204.65" width="1.80" height="1.20" fill="rgba(255,255,255,0.35)" />
<rect x="153.90" y="202.63" width="4.99" height="5.23" fill="#e6b41c" />
<rect x="155.49" y="204.65" width="1.80" height="1.20" fill="rgba(255,255,255,0.35)" />
<rect x="158.89" y="202.63" width="4.99" height="5.23" fill="#e6b41c" />
<rect x="160.48" y="204.65" width="1.80" height="1.20" fill="rgba(255,255,255,0.35)" />
<rect x="163.88" y="202.63" width="4.99" height="5.23" fill="#e6b41c" />
<rect x="165.47" y="204.65" width="1.80" height="1.20" fill="rgba(255,255,255,0.35)" />
<rect x="168.86" y="202.63" width="4.99" height="5.23" fill="#e6b41c" />
<rect x="170.46" y="204.65" width="1.80" height="1.20" fill="rgba(255,255,255,0.35)" />
<rect x="173.85" y="202.63" width="4.99" height="5.23" fill="#e6b41c" />
<rect x="175.44" y="204.65" width="1.80" height="1.20" fill="rgba(255,255,255,0.35)" />
<rect x="178.84" y="202.63" width="4.99" height="5.23" fill="#e6b41c" />
<rect x="180.43" y="204.65" width="1.80" height="1.20" fill="rgba(255,255,255,0.35)" />
<rect x="183.82" y="202.63" width="4.99" height="5.23" fill="#e6b41c" />
<rect x="185.42" y="204.65" width="1.80" height="1.20" fill="rgba(255,255,255,0.35)" />
<rect x="188.81" y="202.63" width="4.99" height="5.23" fill="#e6b41c" />
<rect x="190.41" y="204.65" width="1.80" height="1.20" fill="rgba(255,255,255,0.35)" />
<rect x="193.80" y="202.63" width="4.99" height="5.23" fill="#e6b41c" />
<rect x="195.39" y="204.65" width="1.80" height="1.20" fill="rgba(255,255,255,0.35)" />
<rect x="34.20" y="207.87" width="4.99" height="5.23" fill="#2f9fd6" />
<rect x="35.79" y="209.89" width="1.80" height="1.20" fill="rgba(255,255,255,0.35)" />
<rect x="39.19" y="207.87" width="4.99" height="5.23" fill="#2f9fd6" />
<rect x="40.78" y="209.89" width="1.80" height="1.20" fill="rgba(255,255,255,0.35)" />
<rect x="44.18" y="207.87" width="4.99" height="5.23" fill="#2f9fd6" />
<rect x="45.77" y="209.89" width="1.80" height="1.20" fill="rgba(255,255,255,0.35)" />
<rect x="49.16" y="207.87" width="4.99" height="5.23" fill="#2f9fd6" />
<rect x="50.76" y="209.89" width="1.80" height="1.20" fill="rgba(255,255,255,0.35)" />
<rect x="54.15" y="207.87" width="4.99" height="5.23" fill="#2f9fd6" />
<rect x="55.74" y="209.89" width="1.80" height="1.20" fill="rgba(255,255,255,0.35)" />
<rect x="59.14" y="207.87" width="4.99" height="5.23" fill="#2f9fd6" />
<rect x="60.73" y="209.89" width="1.80" height="1.20" fill="rgba(255,255,255,0.35)" />
<rect x="64.12" y="207.87" width="4.99" height="5.23" fill="#2f9fd6" />
<rect x="65.72" y="209.89" width="1.80" height="1.20" fill="rgba(255,255,255,0.35)" />
<rect x="69.11" y="207.87" width="4.99" height="5.23" fill="#2f9fd6" />
<rect x="70.71" y="209.89" width="1.80" height="1.20" fill="rgba(255,255,255,0.35)" />
<rect x="74.10" y="207.87" width="4.99" height="5.23" fill="#2f9fd6" />
<rect x="75.69" y="209.89" width="1.80" height="1.20" fill="rgba(255,255,255,0.35)" />
<rect x="79.09" y="207.87" width="4.99" height="5.23" fill="#2f9fd6" />
<rect x="80.68" y="209.89" width="1.80" height="1.20" fill="rgba(255,255,255,0.35)" />
<rect x="84.08" y="207.87" width="4.99" height="5.23" fill="#2f9fd6" />
<rect x="85.67" y="209.89" width="1.80" height="1.20" fill="rgba(255,255,255,0.35)" />
<rect x="89.06" y="207.87" width="4.99" height="5.23" fill="#2f9fd6" />
<rect x="90.66" y="209.89" width="1.80" height="1.20" fill="rgba(255,255,255,0.35)" />
<rect x="188.81" y="207.87" width="4.99" height="5.23" fill="#2f9fd6" />
<rect x="190.41" y="209.89" width="1.80" height="1.20" fill="rgba(255,255,255,0.35)" />
<rect x="396.50" y="207.87" width="5.00" height="5.23" fill="#2f9fd6" />
<rect x="398.10" y="209.89" width="1.80" height="1.20" fill="rgba(255,255,255,0.35)" />
<rect x="401.50" y="207.87" width="5.00" height="5.23" fill="#2f9fd6" />
<rect x="403.10" y="209.89" width="1.80" height="1.20" fill="rgba(255,255,255,0.35)" />
<rect x="406.50" y="207.87" width="5.00" height="5.23" fill="#2f9fd6" />
<rect x="408.10" y="209.89" width="1.80" height="1.20" fill="rgba(255,255,255,0.35)" />
<rect x="411.50" y="207.87" width="5.00" height="5.23" fill="#2f9fd6" />
<rect x="413.10" y="209.89" width="1.80" height="1.20" fill="rgba(255,255,255,0.35)" />
<rect x="416.50" y="207.87" width="5.00" height="5.23" fill="#2f9fd6" />
<rect x="418.10" y="209.89" width="1.80" height="1.20" fill="rgba(255,255,255,0.35)" />
<rect x="421.50" y="207.87" width="5.00" height="5.23" fill="#2f9fd6" />
<rect x="423.10" y="209.89" width="1.80" height="1.20" fill="rgba(255,255,255,0.35)" />
<rect x="426.50" y="207.87" width="5.00" height="5.23" fill="#2f9fd6" />
<rect x="428.10" y="209.89" width="1.80" height="1.20" fill="rgba(255,255,255,0.35)" />
<rect x="431.50" y="207.87" width="5.00" height="5.23" fill="#2f9fd6" />
<rect x="433.10" y="209.89" width="1.80" height="1.20" fill="rgba(255,255,255,0.35)" />
<rect x="436.50" y="207.87" width="5.00" height="5.23" fill="#2f9fd6" />
<rect x="438.10" y="209.89" width="1.80" height="1.20" fill="rgba(255,255,255,0.35)" />
<rect x="441.50" y="207.87" width="5.00" height="5.23" fill="#2f9fd6" />
<rect x="443.10" y="209.89" width="1.80" height="1.20" fill="rgba(255,255,255,0.35)" />
<rect x="446.50" y="207.87" width="5.00" height="5.23" fill="#2f9fd6" />
<rect x="448.10" y="209.89" width="1.80" height="1.20" fill="rgba(255,255,255,0.35)" />
<rect x="451.50" y="207.87" width="5.00" height="5.23" fill="#2f9fd6" />
<rect x="453.10" y="209.89" width="1.80" height="1.20" fill="rgba(255,255,255,0.35)" />
<rect x="456.50" y="207.87" width="5.00" height="5.23" fill="#2f9fd6" />
<rect x="458.10" y="209.89" width="1.80" height="1.20" fill="rgba(255,255,255,0.35)" />
<rect x="461.50" y="207.87" width="5.00" height="5.23" fill="#2f9fd6" />
<rect x="463.10" y="209.89" width="1.80" height="1.20" fill="rgba(255,255,255,0.35)" />
<rect x="466.50" y="207.87" width="5.00" height="5.23" fill="#2f9fd6" />
<rect x="468.10" y="209.89" width="1.80" height="1.20" fill="rgba(255,255,255,0.35)" />
<rect x="471.50" y="207.87" width="5.00" height="5.23" fill="#2f9fd6" />
<rect x="473.10" y="209.89" width="1.80" height="1.20" fill="rgba(255,255,255,0.35)" />
<rect x="476.50" y="207.87" width="5.00" height="5.23" fill="#2f9fd6" />
<rect x="478.10" y="209.89" width="1.80" height="1.20" fill="rgba(255,255,255,0.35)" />
<rect x="481.50" y="207.87" width="5.00" height="5.23" fill="#2f9fd6" />
<rect x="483.10" y="209.89" width="1.80" height="1.20" fill="rgba(255,255,255,0.35)" />
<rect x="486.50" y="207.87" width="5.00" height="5.23" fill="#2f9fd6" />
<rect x="488.10" y="209.89" width="1.80" height="1.20" fill="rgba(255,255,255,0.35)" />
<rect x="491.50" y="207.87" width="6.20" height="5.23" fill="#2f9fd6" />
<rect x="493.70" y="209.89" width="1.80" height="1.20" fill="rgba(255,255,255,0.35)" />
<rect x="34.20" y="213.10" width="4.99" height="5.23" fill="#8a3fa0" />
<rect x="35.79" y="215.12" width="1.80" height="1.20" fill="rgba(255,255,255,0.35)" />
<rect x="39.19" y="213.10" width="4.99" height="5.23" fill="#8a3fa0" />
<rect x="40.78" y="215.12" width="1.80" height="1.20" fill="rgba(255,255,255,0.35)" />
<rect x="44.18" y="213.10" width="4.99" height="5.23" fill="#8a3fa0" />
<rect x="45.77" y="215.12" width="1.80" height="1.20" fill="rgba(255,255,255,0.35)" />
<rect x="49.16" y="213.10" width="4.99" height="5.23" fill="#8a3fa0" />
<rect x="50.76" y="215.12" width="1.80" height="1.20" fill="rgba(255,255,255,0.35)" />
<rect x="54.15" y="213.10" width="4.99" height="5.23" fill="#8a3fa0" />
<rect x="55.74" y="215.12" width="1.80" height="1.20" fill="rgba(255,255,255,0.35)" />
<rect x="59.14" y="213.10" width="4.99" height="5.23" fill="#8a3fa0" />
<rect x="60.73" y="215.12" width="1.80" height="1.20" fill="rgba(255,255,255,0.35)" />
<rect x="64.12" y="213.10" width="4.99" height="5.23" fill="#8a3fa0" />
<rect x="65.72" y="215.12" width="1.80" height="1.20" fill="rgba(255,255,255,0.35)" />
<rect x="94.05" y="213.10" width="4.99" height="5.23" fill="#8a3fa0" />
<rect x="95.64" y="215.12" width="1.80" height="1.20" fill="rgba(255,255,255,0.35)" />
<rect x="99.04" y="213.10" width="4.99" height="5.23" fill="#8a3fa0" />
<rect x="100.63" y="215.12" width="1.80" height="1.20" fill="rgba(255,255,255,0.35)" />
<rect x="104.03" y="213.10" width="4.99" height="5.23" fill="#8a3fa0" />
<rect x="105.62" y="215.12" width="1.80" height="1.20" fill="rgba(255,255,255,0.35)" />
<rect x="109.01" y="213.10" width="4.99" height="5.23" fill="#8a3fa0" />
<rect x="110.61" y="215.12" width="1.80" height="1.20" fill="rgba(255,255,255,0.35)" />
<rect x="114.00" y="213.10" width="4.99" height="5.23" fill="#8a3fa0" />
<rect x="115.59" y="215.12" width="1.80" height="1.20" fill="rgba(255,255,255,0.35)" />
<rect x="118.99" y="213.10" width="4.99" height="5.23" fill="#8a3fa0" />
<rect x="120.58" y="215.12" width="1.80" height="1.20" fill="rgba(255,255,255,0.35)" />
<rect x="123.97" y="213.10" width="4.99" height="5.23" fill="#8a3fa0" />
<rect x="125.57" y="215.12" width="1.80" height="1.20" fill="rgba(255,255,255,0.35)" />
<rect x="198.79" y="213.10" width="4.99" height="5.23" fill="#8a3fa0" />
<rect x="200.38" y="215.12" width="1.80" height="1.20" fill="rgba(255,255,255,0.35)" />
<rect x="203.77" y="213.10" width="4.99" height="5.23" fill="#8a3fa0" />
<rect x="205.37" y="215.12" width="1.80" height="1.20" fill="rgba(255,255,255,0.35)" />
<rect x="208.76" y="213.10" width="4.99" height="5.23" fill="#8a3fa0" />
<rect x="210.36" y="215.12" width="1.80" height="1.20" fill="rgba(255,255,255,0.35)" />
<rect x="213.75" y="213.10" width="4.99" height="5.23" fill="#8a3fa0" />
<rect x="215.34" y="215.12" width="1.80" height="1.20" fill="rgba(255,255,255,0.35)" />
<rect x="218.74" y="213.10" width="4.99" height="5.23" fill="#8a3fa0" />
<rect x="220.33" y="215.12" width="1.80" height="1.20" fill="rgba(255,255,255,0.35)" />
<rect x="223.73" y="213.10" width="4.99" height="5.23" fill="#8a3fa0" />
<rect x="225.32" y="215.12" width="1.80" height="1.20" fill="rgba(255,255,255,0.35)" />
<rect x="228.71" y="213.10" width="4.99" height="5.23" fill="#8a3fa0" />
<rect x="230.31" y="215.12" width="1.80" height="1.20" fill="rgba(255,255,255,0.35)" />
<rect x="233.70" y="213.10" width="4.99" height="5.23" fill="#8a3fa0" />
<rect x="235.29" y="215.12" width="1.80" height="1.20" fill="rgba(255,255,255,0.35)" />
<rect x="238.69" y="213.10" width="4.99" height="5.23" fill="#8a3fa0" />
<rect x="240.28" y="215.12" width="1.80" height="1.20" fill="rgba(255,255,255,0.35)" />
<rect x="476.50" y="213.10" width="5.00" height="5.23" fill="#8a3fa0" />
<rect x="478.10" y="215.12" width="1.80" height="1.20" fill="rgba(255,255,255,0.35)" />
<rect x="481.50" y="213.10" width="5.00" height="5.23" fill="#8a3fa0" />
<rect x="483.10" y="215.12" width="1.80" height="1.20" fill="rgba(255,255,255,0.35)" />
<rect x="486.50" y="213.10" width="5.00" height="5.23" fill="#8a3fa0" />
<rect x="488.10" y="215.12" width="1.80" height="1.20" fill="rgba(255,255,255,0.35)" />
<rect x="491.50" y="213.10" width="6.20" height="5.23" fill="#8a3fa0" />
<rect x="493.70" y="215.12" width="1.80" height="1.20" fill="rgba(255,255,255,0.35)" />
<rect x="64.12" y="218.34" width="4.99" height="5.23" fill="#2f9a3a" />
<rect x="65.72" y="220.36" width="1.80" height="1.20" fill="rgba(255,255,255,0.35)" />
<rect x="74.10" y="218.34" width="4.99" height="5.23" fill="#2f9a3a" />
<rect x="75.69" y="220.36" width="1.80" height="1.20" fill="rgba(255,255,255,0.35)" />
<rect x="114.00" y="218.34" width="4.99" height="5.23" fill="#2f9a3a" />
<rect x="115.59" y="220.36" width="1.80" height="1.20" fill="rgba(255,255,255,0.35)" />
<rect x="173.85" y="218.34" width="4.99" height="5.23" fill="#2f9a3a" />
<rect x="175.44" y="220.36" width="1.80" height="1.20" fill="rgba(255,255,255,0.35)" />
<rect x="223.73" y="218.34" width="4.99" height="5.23" fill="#2f9a3a" />
<rect x="225.32" y="220.36" width="1.80" height="1.20" fill="rgba(255,255,255,0.35)" />
<rect x="228.71" y="218.34" width="4.99" height="5.23" fill="#2f9a3a" />
<rect x="230.31" y="220.36" width="1.80" height="1.20" fill="rgba(255,255,255,0.35)" />
<rect x="233.70" y="218.34" width="4.99" height="5.23" fill="#2f9a3a" />
<rect x="235.29" y="220.36" width="1.80" height="1.20" fill="rgba(255,255,255,0.35)" />
<rect x="238.69" y="218.34" width="4.99" height="5.23" fill="#2f9a3a" />
<rect x="240.28" y="220.36" width="1.80" height="1.20" fill="rgba(255,255,255,0.35)" />
<rect x="243.68" y="218.34" width="4.99" height="5.23" fill="#2f9a3a" />
<rect x="245.27" y="220.36" width="1.80" height="1.20" fill="rgba(255,255,255,0.35)" />
<rect x="248.66" y="218.34" width="4.99" height="5.23" fill="#2f9a3a" />
<rect x="250.26" y="220.36" width="1.80" height="1.20" fill="rgba(255,255,255,0.35)" />
<rect x="346.50" y="218.34" width="5.00" height="5.23" fill="#2f9a3a" />
<rect x="348.10" y="220.36" width="1.80" height="1.20" fill="rgba(255,255,255,0.35)" />
<rect x="391.50" y="218.34" width="5.00" height="5.23" fill="#2f9a3a" />
<rect x="393.10" y="220.36" width="1.80" height="1.20" fill="rgba(255,255,255,0.35)" />
<rect x="456.50" y="218.34" width="5.00" height="5.23" fill="#2f9a3a" />
<rect x="458.10" y="220.36" width="1.80" height="1.20" fill="rgba(255,255,255,0.35)" />
<rect x="461.50" y="218.34" width="5.00" height="5.23" fill="#2f9a3a" />
<rect x="463.10" y="220.36" width="1.80" height="1.20" fill="rgba(255,255,255,0.35)" />
<rect x="466.50" y="218.34" width="5.00" height="5.23" fill="#2f9a3a" />
<rect x="468.10" y="220.36" width="1.80" height="1.20" fill="rgba(255,255,255,0.35)" />
<rect x="471.50" y="218.34" width="5.00" height="5.23" fill="#2f9a3a" />
<rect x="473.10" y="220.36" width="1.80" height="1.20" fill="rgba(255,255,255,0.35)" />
<rect x="476.50" y="218.34" width="5.00" height="5.23" fill="#2f9a3a" />
<rect x="478.10" y="220.36" width="1.80" height="1.20" fill="rgba(255,255,255,0.35)" />
<rect x="481.50" y="218.34" width="5.00" height="5.23" fill="#2f9a3a" />
<rect x="483.10" y="220.36" width="1.80" height="1.20" fill="rgba(255,255,255,0.35)" />
<rect x="99.04" y="223.57" width="4.99" height="5.23" fill="#1f6e4c" />
<rect x="100.63" y="225.59" width="1.80" height="1.20" fill="rgba(255,255,255,0.35)" />
<rect x="138.94" y="223.57" width="4.99" height="5.23" fill="#1f6e4c" />
<rect x="140.53" y="225.59" width="1.80" height="1.20" fill="rgba(255,255,255,0.35)" />
<rect x="143.93" y="223.57" width="4.99" height="5.23" fill="#1f6e4c" />
<rect x="145.52" y="225.59" width="1.80" height="1.20" fill="rgba(255,255,255,0.35)" />
<rect x="148.91" y="223.57" width="4.99" height="5.23" fill="#1f6e4c" />
<rect x="150.51" y="225.59" width="1.80" height="1.20" fill="rgba(255,255,255,0.35)" />
<rect x="153.90" y="223.57" width="4.99" height="5.23" fill="#1f6e4c" />
<rect x="155.49" y="225.59" width="1.80" height="1.20" fill="rgba(255,255,255,0.35)" />
<rect x="158.89" y="223.57" width="4.99" height="5.23" fill="#1f6e4c" />
<rect x="160.48" y="225.59" width="1.80" height="1.20" fill="rgba(255,255,255,0.35)" />
<rect x="163.88" y="223.57" width="4.99" height="5.23" fill="#1f6e4c" />
<rect x="165.47" y="225.59" width="1.80" height="1.20" fill="rgba(255,255,255,0.35)" />
<rect x="168.86" y="223.57" width="4.99" height="5.23" fill="#1f6e4c" />
<rect x="170.46" y="225.59" width="1.80" height="1.20" fill="rgba(255,255,255,0.35)" />
<rect x="238.69" y="223.57" width="4.99" height="5.23" fill="#1f6e4c" />
<rect x="240.28" y="225.59" width="1.80" height="1.20" fill="rgba(255,255,255,0.35)" />
<rect x="243.68" y="223.57" width="4.99" height="5.23" fill="#1f6e4c" />
<rect x="245.27" y="225.59" width="1.80" height="1.20" fill="rgba(255,255,255,0.35)" />
<rect x="248.66" y="223.57" width="4.99" height="5.23" fill="#1f6e4c" />
<rect x="250.26" y="225.59" width="1.80" height="1.20" fill="rgba(255,255,255,0.35)" />
<rect x="253.65" y="223.57" width="4.99" height="5.23" fill="#1f6e4c" />
<rect x="255.24" y="225.59" width="1.80" height="1.20" fill="rgba(255,255,255,0.35)" />
<rect x="258.64" y="223.57" width="4.99" height="5.23" fill="#1f6e4c" />
<rect x="260.23" y="225.59" width="1.80" height="1.20" fill="rgba(255,255,255,0.35)" />
<rect x="263.62" y="223.57" width="4.99" height="5.23" fill="#1f6e4c" />
<rect x="265.22" y="225.59" width="1.80" height="1.20" fill="rgba(255,255,255,0.35)" />
<rect x="268.61" y="223.57" width="4.99" height="5.23" fill="#1f6e4c" />
<rect x="270.21" y="225.59" width="1.80" height="1.20" fill="rgba(255,255,255,0.35)" />
<rect x="273.60" y="223.57" width="4.90" height="5.23" fill="#1f6e4c" />
<rect x="275.15" y="225.59" width="1.80" height="1.20" fill="rgba(255,255,255,0.35)" />
<rect x="213.75" y="228.81" width="4.99" height="5.23" fill="#a9c3e0" />
<rect x="215.34" y="230.83" width="1.80" height="1.20" fill="rgba(255,255,255,0.35)" />
<rect x="218.74" y="228.81" width="4.99" height="5.23" fill="#a9c3e0" />
<rect x="220.33" y="230.83" width="1.80" height="1.20" fill="rgba(255,255,255,0.35)" />
<rect x="223.73" y="228.81" width="4.99" height="5.23" fill="#a9c3e0" />
<rect x="225.32" y="230.83" width="1.80" height="1.20" fill="rgba(255,255,255,0.35)" />
<rect x="341.50" y="228.81" width="5.00" height="5.23" fill="#a9c3e0" />
<rect x="343.10" y="230.83" width="1.80" height="1.20" fill="rgba(255,255,255,0.35)" />
<rect x="346.50" y="228.81" width="5.00" height="5.23" fill="#a9c3e0" />
<rect x="348.10" y="230.83" width="1.80" height="1.20" fill="rgba(255,255,255,0.35)" />
<rect x="351.50" y="228.81" width="5.00" height="5.23" fill="#a9c3e0" />
<rect x="353.10" y="230.83" width="1.80" height="1.20" fill="rgba(255,255,255,0.35)" />
<rect x="356.50" y="228.81" width="5.00" height="5.23" fill="#a9c3e0" />
<rect x="358.10" y="230.83" width="1.80" height="1.20" fill="rgba(255,255,255,0.35)" />
<rect x="361.50" y="228.81" width="5.00" height="5.23" fill="#a9c3e0" />
<rect x="363.10" y="230.83" width="1.80" height="1.20" fill="rgba(255,255,255,0.35)" />
<rect x="451.50" y="228.81" width="5.00" height="5.23" fill="#a9c3e0" />
<rect x="453.10" y="230.83" width="1.80" height="1.20" fill="rgba(255,255,255,0.35)" />
<rect x="461.50" y="228.81" width="5.00" height="5.23" fill="#a9c3e0" />
<rect x="463.10" y="230.83" width="1.80" height="1.20" fill="rgba(255,255,255,0.35)" />
<rect x="466.50" y="228.81" width="5.00" height="5.23" fill="#a9c3e0" />
<rect x="468.10" y="230.83" width="1.80" height="1.20" fill="rgba(255,255,255,0.35)" />
<rect x="491.50" y="228.81" width="6.20" height="5.23" fill="#a9c3e0" />
<rect x="493.70" y="230.83" width="1.80" height="1.20" fill="rgba(255,255,255,0.35)" />
<rect x="123.97" y="234.04" width="4.99" height="5.23" fill="#1a3e80" />
<rect x="125.57" y="236.06" width="1.80" height="1.20" fill="rgba(255,255,255,0.35)" />
<rect x="361.50" y="234.04" width="5.00" height="5.23" fill="#1a3e80" />
<rect x="363.10" y="236.06" width="1.80" height="1.20" fill="rgba(255,255,255,0.35)" />
<rect x="431.50" y="234.04" width="5.00" height="5.23" fill="#1a3e80" />
<rect x="433.10" y="236.06" width="1.80" height="1.20" fill="rgba(255,255,255,0.35)" />
<rect x="376.50" y="239.28" width="5.00" height="5.23" fill="#e2a81c" />
<rect x="378.10" y="241.29" width="1.80" height="1.20" fill="rgba(255,255,255,0.35)" />
<rect x="421.50" y="239.28" width="5.00" height="5.23" fill="#e2a81c" />
<rect x="423.10" y="241.29" width="1.80" height="1.20" fill="rgba(255,255,255,0.35)" />
<rect x="376.50" y="244.51" width="5.00" height="5.23" fill="#d23a2a" />
<rect x="378.10" y="246.53" width="1.80" height="1.20" fill="rgba(255,255,255,0.35)" />
<rect x="446.50" y="244.51" width="5.00" height="5.23" fill="#d23a2a" />
<rect x="448.10" y="246.53" width="1.80" height="1.20" fill="rgba(255,255,255,0.35)" />
<rect x="49.16" y="249.75" width="4.99" height="5.23" fill="#c8185a" />
<rect x="50.76" y="251.76" width="1.80" height="1.20" fill="rgba(255,255,255,0.35)" />
<rect x="173.85" y="249.75" width="4.99" height="5.23" fill="#c8185a" />
<rect x="175.44" y="251.76" width="1.80" height="1.20" fill="rgba(255,255,255,0.35)" />
<rect x="238.69" y="249.75" width="4.99" height="5.23" fill="#c8185a" />
<rect x="240.28" y="251.76" width="1.80" height="1.20" fill="rgba(255,255,255,0.35)" />
<rect x="361.50" y="249.75" width="5.00" height="5.23" fill="#c8185a" />
<rect x="363.10" y="251.76" width="1.80" height="1.20" fill="rgba(255,255,255,0.35)" />
<rect x="381.50" y="249.75" width="5.00" height="5.23" fill="#c8185a" />
<rect x="383.10" y="251.76" width="1.80" height="1.20" fill="rgba(255,255,255,0.35)" />
<rect x="386.50" y="249.75" width="5.00" height="5.23" fill="#c8185a" />
<rect x="388.10" y="251.76" width="1.80" height="1.20" fill="rgba(255,255,255,0.35)" />
<rect x="476.50" y="249.75" width="5.00" height="5.23" fill="#c8185a" />
<rect x="478.10" y="251.76" width="1.80" height="1.20" fill="rgba(255,255,255,0.35)" />
<rect x="128.96" y="254.98" width="4.99" height="5.23" fill="#c8c8c8" />
<rect x="130.56" y="257.00" width="1.80" height="1.20" fill="rgba(255,255,255,0.35)" />
<rect x="316.50" y="254.98" width="5.00" height="5.23" fill="#c8c8c8" />
<rect x="318.10" y="257.00" width="1.80" height="1.20" fill="rgba(255,255,255,0.35)" />
<rect x="321.50" y="254.98" width="5.00" height="5.23" fill="#c8c8c8" />
<rect x="323.10" y="257.00" width="1.80" height="1.20" fill="rgba(255,255,255,0.35)" />
<rect x="351.50" y="254.98" width="5.00" height="5.23" fill="#c8c8c8" />
<rect x="353.10" y="257.00" width="1.80" height="1.20" fill="rgba(255,255,255,0.35)" />
<rect x="218.74" y="260.22" width="4.99" height="5.23" fill="#8fb0d6" />
<rect x="220.33" y="262.23" width="1.80" height="1.20" fill="rgba(255,255,255,0.35)" />
<rect x="248.66" y="260.22" width="4.99" height="5.23" fill="#8fb0d6" />
<rect x="250.26" y="262.23" width="1.80" height="1.20" fill="rgba(255,255,255,0.35)" />
<rect x="258.64" y="260.22" width="4.99" height="5.23" fill="#8fb0d6" />
<rect x="260.23" y="262.23" width="1.80" height="1.20" fill="rgba(255,255,255,0.35)" />
<rect x="351.50" y="260.22" width="5.00" height="5.23" fill="#8fb0d6" />
<rect x="353.10" y="262.23" width="1.80" height="1.20" fill="rgba(255,255,255,0.35)" />
<rect x="356.50" y="260.22" width="5.00" height="5.23" fill="#8fb0d6" />
<rect x="358.10" y="262.23" width="1.80" height="1.20" fill="rgba(255,255,255,0.35)" />
<rect x="466.50" y="260.22" width="5.00" height="5.23" fill="#8fb0d6" />
<rect x="468.10" y="262.23" width="1.80" height="1.20" fill="rgba(255,255,255,0.35)" />
<rect x="471.50" y="260.22" width="5.00" height="5.23" fill="#8fb0d6" />
<rect x="473.10" y="262.23" width="1.80" height="1.20" fill="rgba(255,255,255,0.35)" />
<rect x="476.50" y="260.22" width="5.00" height="5.23" fill="#8fb0d6" />
<rect x="478.10" y="262.23" width="1.80" height="1.20" fill="rgba(255,255,255,0.35)" />
<rect x="253.65" y="265.45" width="4.99" height="5.23" fill="#d46a1c" />
<rect x="255.24" y="267.47" width="1.80" height="1.20" fill="rgba(255,255,255,0.35)" />
<rect x="316.50" y="265.45" width="5.00" height="5.23" fill="#d46a1c" />
<rect x="318.10" y="267.47" width="1.80" height="1.20" fill="rgba(255,255,255,0.35)" />
<rect x="361.50" y="265.45" width="5.00" height="5.23" fill="#d46a1c" />
<rect x="363.10" y="267.47" width="1.80" height="1.20" fill="rgba(255,255,255,0.35)" />
<rect x="371.50" y="265.45" width="5.00" height="5.23" fill="#d46a1c" />
<rect x="373.10" y="267.47" width="1.80" height="1.20" fill="rgba(255,255,255,0.35)" />
<rect x="406.50" y="265.45" width="5.00" height="5.23" fill="#d46a1c" />
<rect x="408.10" y="267.47" width="1.80" height="1.20" fill="rgba(255,255,255,0.35)" />
<rect x="411.50" y="265.45" width="5.00" height="5.23" fill="#d46a1c" />
<rect x="413.10" y="267.47" width="1.80" height="1.20" fill="rgba(255,255,255,0.35)" />
<rect x="476.50" y="265.45" width="5.00" height="5.23" fill="#d46a1c" />
<rect x="478.10" y="267.47" width="1.80" height="1.20" fill="rgba(255,255,255,0.35)" />
<rect x="486.50" y="265.45" width="5.00" height="5.23" fill="#d46a1c" />
<rect x="488.10" y="267.47" width="1.80" height="1.20" fill="rgba(255,255,255,0.35)" />
<rect x="44.18" y="270.68" width="4.99" height="5.23" fill="#c06a1e" />
<rect x="45.77" y="272.70" width="1.80" height="1.20" fill="rgba(255,255,255,0.35)" />
<rect x="54.15" y="270.68" width="4.99" height="5.23" fill="#c06a1e" />
<rect x="55.74" y="272.70" width="1.80" height="1.20" fill="rgba(255,255,255,0.35)" />
<rect x="84.08" y="270.68" width="4.99" height="5.23" fill="#c06a1e" />
<rect x="85.67" y="272.70" width="1.80" height="1.20" fill="rgba(255,255,255,0.35)" />
<rect x="401.50" y="270.68" width="5.00" height="5.23" fill="#c06a1e" />
<rect x="403.10" y="272.70" width="1.80" height="1.20" fill="rgba(255,255,255,0.35)" />
<rect x="411.50" y="270.68" width="5.00" height="5.23" fill="#c06a1e" />
<rect x="413.10" y="272.70" width="1.80" height="1.20" fill="rgba(255,255,255,0.35)" />
<rect x="416.50" y="270.68" width="5.00" height="5.23" fill="#c06a1e" />
<rect x="418.10" y="272.70" width="1.80" height="1.20" fill="rgba(255,255,255,0.35)" />
<rect x="79.09" y="275.92" width="4.99" height="5.23" fill="#e0901a" />
<rect x="80.68" y="277.94" width="1.80" height="1.20" fill="rgba(255,255,255,0.35)" />
<rect x="168.86" y="275.92" width="4.99" height="5.23" fill="#e0901a" />
<rect x="170.46" y="277.94" width="1.80" height="1.20" fill="rgba(255,255,255,0.35)" />
<rect x="208.76" y="275.92" width="4.99" height="5.23" fill="#e0901a" />
<rect x="210.36" y="277.94" width="1.80" height="1.20" fill="rgba(255,255,255,0.35)" />
<rect x="361.50" y="275.92" width="5.00" height="5.23" fill="#e0901a" />
<rect x="363.10" y="277.94" width="1.80" height="1.20" fill="rgba(255,255,255,0.35)" />
<rect x="366.50" y="275.92" width="5.00" height="5.23" fill="#e0901a" />
<rect x="368.10" y="277.94" width="1.80" height="1.20" fill="rgba(255,255,255,0.35)" />
<rect x="441.50" y="275.92" width="5.00" height="5.23" fill="#e0901a" />
<rect x="443.10" y="277.94" width="1.80" height="1.20" fill="rgba(255,255,255,0.35)" />
<rect x="491.50" y="275.92" width="6.20" height="5.23" fill="#e0901a" />
<rect x="493.70" y="277.94" width="1.80" height="1.20" fill="rgba(255,255,255,0.35)" />
<rect x="49.16" y="281.15" width="4.99" height="5.23" fill="#c8c8c8" />
<rect x="50.76" y="283.17" width="1.80" height="1.20" fill="rgba(255,255,255,0.35)" />
<rect x="233.70" y="281.15" width="4.99" height="5.23" fill="#c8c8c8" />
<rect x="235.29" y="283.17" width="1.80" height="1.20" fill="rgba(255,255,255,0.35)" />
<rect x="243.68" y="281.15" width="4.99" height="5.23" fill="#c8c8c8" />
<rect x="245.27" y="283.17" width="1.80" height="1.20" fill="rgba(255,255,255,0.35)" />
<rect x="461.50" y="281.15" width="5.00" height="5.23" fill="#c8c8c8" />
<rect x="463.10" y="283.17" width="1.80" height="1.20" fill="rgba(255,255,255,0.35)" />
<rect x="173.85" y="286.39" width="4.99" height="5.23" fill="#8a86c0" />
<rect x="175.44" y="288.41" width="1.80" height="1.20" fill="rgba(255,255,255,0.35)" />
<rect x="178.84" y="286.39" width="4.99" height="5.23" fill="#8a86c0" />
<rect x="180.43" y="288.41" width="1.80" height="1.20" fill="rgba(255,255,255,0.35)" />
<rect x="456.50" y="286.39" width="5.00" height="5.23" fill="#8a86c0" />
<rect x="458.10" y="288.41" width="1.80" height="1.20" fill="rgba(255,255,255,0.35)" />
<rect x="178.84" y="291.62" width="4.99" height="5.23" fill="#1a1a1a" />
<rect x="180.43" y="293.64" width="1.80" height="1.20" fill="rgba(255,255,255,0.35)" />
<rect x="263.62" y="296.86" width="4.99" height="5.23" fill="#a25a22" />
<rect x="265.22" y="298.88" width="1.80" height="1.20" fill="rgba(255,255,255,0.35)" />
<rect x="351.50" y="296.86" width="5.00" height="5.23" fill="#a25a22" />
<rect x="353.10" y="298.88" width="1.80" height="1.20" fill="rgba(255,255,255,0.35)" />
<rect x="416.50" y="296.86" width="5.00" height="5.23" fill="#a25a22" />
<rect x="418.10" y="298.88" width="1.80" height="1.20" fill="rgba(255,255,255,0.35)" />
<rect x="441.50" y="296.86" width="5.00" height="5.23" fill="#a25a22" />
<rect x="443.10" y="298.88" width="1.80" height="1.20" fill="rgba(255,255,255,0.35)" />
<rect x="208.76" y="302.09" width="4.99" height="5.23" fill="#2e2e33" />
<rect x="210.36" y="304.11" width="1.80" height="1.20" fill="rgba(255,255,255,0.35)" />
<rect x="233.70" y="302.09" width="4.99" height="5.23" fill="#2e2e33" />
<rect x="235.29" y="304.11" width="1.80" height="1.20" fill="rgba(255,255,255,0.35)" />
<rect x="273.60" y="302.09" width="4.90" height="5.23" fill="#3a3a8a" />
<rect x="275.15" y="304.11" width="1.80" height="1.20" fill="rgba(255,255,255,0.35)" />
<rect x="321.50" y="302.09" width="5.00" height="5.23" fill="#2e3e4e" />
<rect x="323.10" y="304.11" width="1.80" height="1.20" fill="rgba(255,255,255,0.35)" />
<rect x="273.60" y="307.33" width="4.90" height="5.23" fill="#a08428" />
<rect x="275.15" y="309.34" width="1.80" height="1.20" fill="rgba(255,255,255,0.35)" />
<rect x="381.50" y="307.33" width="5.00" height="5.23" fill="#a5652a" />
<rect x="383.10" y="309.34" width="1.80" height="1.20" fill="rgba(255,255,255,0.35)" />
<rect x="321.50" y="317.80" width="5.00" height="5.23" fill="#d86a9a" />
<rect x="323.10" y="319.81" width="1.80" height="1.20" fill="rgba(255,255,255,0.35)" />
<rect x="188.81" y="323.03" width="4.99" height="5.23" fill="#e08aa8" />
<rect x="190.41" y="325.05" width="1.80" height="1.20" fill="rgba(255,255,255,0.35)" />
<rect x="34.20" y="328.27" width="4.99" height="5.23" fill="#b5123c" />
<rect x="35.79" y="330.28" width="1.80" height="1.20" fill="rgba(255,150,170,0.55)" />
<rect x="39.19" y="328.27" width="4.99" height="5.23" fill="#b5123c" />
<rect x="40.78" y="330.28" width="1.80" height="1.20" fill="rgba(255,150,170,0.55)" />
<rect x="44.18" y="328.27" width="4.99" height="5.23" fill="#b5123c" />
<rect x="45.77" y="330.28" width="1.80" height="1.20" fill="rgba(255,150,170,0.55)" />
<rect x="49.16" y="328.27" width="4.99" height="5.23" fill="#b5123c" />
<rect x="50.76" y="330.28" width="1.80" height="1.20" fill="rgba(255,150,170,0.55)" />
<rect x="54.15" y="328.27" width="4.99" height="5.23" fill="#b5123c" />
<rect x="55.74" y="330.28" width="1.80" height="1.20" fill="rgba(255,150,170,0.55)" />
<rect x="59.14" y="328.27" width="4.99" height="5.23" fill="#b5123c" />
<rect x="60.73" y="330.28" width="1.80" height="1.20" fill="rgba(255,150,170,0.55)" />
<rect x="64.12" y="328.27" width="4.99" height="5.23" fill="#b5123c" />
<rect x="65.72" y="330.28" width="1.80" height="1.20" fill="rgba(255,150,170,0.55)" />
<rect x="69.11" y="328.27" width="4.99" height="5.23" fill="#b5123c" />
<rect x="70.71" y="330.28" width="1.80" height="1.20" fill="rgba(255,150,170,0.55)" />
<rect x="74.10" y="328.27" width="4.99" height="5.23" fill="#b5123c" />
<rect x="75.69" y="330.28" width="1.80" height="1.20" fill="rgba(255,150,170,0.55)" />
<rect x="79.09" y="328.27" width="4.99" height="5.23" fill="#b5123c" />
<rect x="80.68" y="330.28" width="1.80" height="1.20" fill="rgba(255,150,170,0.55)" />
<rect x="84.08" y="328.27" width="4.99" height="5.23" fill="#b5123c" />
<rect x="85.67" y="330.28" width="1.80" height="1.20" fill="rgba(255,150,170,0.55)" />
<rect x="89.06" y="328.27" width="4.99" height="5.23" fill="#b5123c" />
<rect x="90.66" y="330.28" width="1.80" height="1.20" fill="rgba(255,150,170,0.55)" />
<rect x="94.05" y="328.27" width="4.99" height="5.23" fill="#b5123c" />
<rect x="95.64" y="330.28" width="1.80" height="1.20" fill="rgba(255,150,170,0.55)" />
<rect x="99.04" y="328.27" width="4.99" height="5.23" fill="#b5123c" />
<rect x="100.63" y="330.28" width="1.80" height="1.20" fill="rgba(255,150,170,0.55)" />
<rect x="104.03" y="328.27" width="4.99" height="5.23" fill="#b5123c" />
<rect x="105.62" y="330.28" width="1.80" height="1.20" fill="rgba(255,150,170,0.55)" />
<rect x="109.01" y="328.27" width="4.99" height="5.23" fill="#b5123c" />
<rect x="110.61" y="330.28" width="1.80" height="1.20" fill="rgba(255,150,170,0.55)" />
<rect x="114.00" y="328.27" width="4.99" height="5.23" fill="#b5123c" />
<rect x="115.59" y="330.28" width="1.80" height="1.20" fill="rgba(255,150,170,0.55)" />
<rect x="118.99" y="328.27" width="4.99" height="5.23" fill="#b5123c" />
<rect x="120.58" y="330.28" width="1.80" height="1.20" fill="rgba(255,150,170,0.55)" />
<rect x="123.97" y="328.27" width="4.99" height="5.23" fill="#b5123c" />
<rect x="125.57" y="330.28" width="1.80" height="1.20" fill="rgba(255,150,170,0.55)" />
<rect x="128.96" y="328.27" width="4.99" height="5.23" fill="#b5123c" />
<rect x="130.56" y="330.28" width="1.80" height="1.20" fill="rgba(255,150,170,0.55)" />
<rect x="133.95" y="328.27" width="4.99" height="5.23" fill="#b5123c" />
<rect x="135.54" y="330.28" width="1.80" height="1.20" fill="rgba(255,150,170,0.55)" />
<rect x="138.94" y="328.27" width="4.99" height="5.23" fill="#b5123c" />
<rect x="140.53" y="330.28" width="1.80" height="1.20" fill="rgba(255,150,170,0.55)" />
<rect x="143.93" y="328.27" width="4.99" height="5.23" fill="#b5123c" />
<rect x="145.52" y="330.28" width="1.80" height="1.20" fill="rgba(255,150,170,0.55)" />
<rect x="148.91" y="328.27" width="4.99" height="5.23" fill="#b5123c" />
<rect x="150.51" y="330.28" width="1.80" height="1.20" fill="rgba(255,150,170,0.55)" />
<rect x="153.90" y="328.27" width="4.99" height="5.23" fill="#b5123c" />
<rect x="155.49" y="330.28" width="1.80" height="1.20" fill="rgba(255,150,170,0.55)" />
<rect x="158.89" y="328.27" width="4.99" height="5.23" fill="#b5123c" />
<rect x="160.48" y="330.28" width="1.80" height="1.20" fill="rgba(255,150,170,0.55)" />
<rect x="163.88" y="328.27" width="4.99" height="5.23" fill="#b5123c" />
<rect x="165.47" y="330.28" width="1.80" height="1.20" fill="rgba(255,150,170,0.55)" />
<rect x="168.86" y="328.27" width="4.99" height="5.23" fill="#b5123c" />
<rect x="170.46" y="330.28" width="1.80" height="1.20" fill="rgba(255,150,170,0.55)" />
<rect x="173.85" y="328.27" width="4.99" height="5.23" fill="#b5123c" />
<rect x="175.44" y="330.28" width="1.80" height="1.20" fill="rgba(255,150,170,0.55)" />
<rect x="178.84" y="328.27" width="4.99" height="5.23" fill="#b5123c" />
<rect x="180.43" y="330.28" width="1.80" height="1.20" fill="rgba(255,150,170,0.55)" />
<rect x="183.82" y="328.27" width="4.99" height="5.23" fill="#b5123c" />
<rect x="185.42" y="330.28" width="1.80" height="1.20" fill="rgba(255,150,170,0.55)" />
<rect x="188.81" y="328.27" width="4.99" height="5.23" fill="#b5123c" />
<rect x="190.41" y="330.28" width="1.80" height="1.20" fill="rgba(255,150,170,0.55)" />
<rect x="193.80" y="328.27" width="4.99" height="5.23" fill="#b5123c" />
<rect x="195.39" y="330.28" width="1.80" height="1.20" fill="rgba(255,150,170,0.55)" />
<rect x="198.79" y="328.27" width="4.99" height="5.23" fill="#b5123c" />
<rect x="200.38" y="330.28" width="1.80" height="1.20" fill="rgba(255,150,170,0.55)" />
<rect x="203.77" y="328.27" width="4.99" height="5.23" fill="#b5123c" />
<rect x="205.37" y="330.28" width="1.80" height="1.20" fill="rgba(255,150,170,0.55)" />
<rect x="208.76" y="328.27" width="4.99" height="5.23" fill="#b5123c" />
<rect x="210.36" y="330.28" width="1.80" height="1.20" fill="rgba(255,150,170,0.55)" />
<rect x="213.75" y="328.27" width="4.99" height="5.23" fill="#b5123c" />
<rect x="215.34" y="330.28" width="1.80" height="1.20" fill="rgba(255,150,170,0.55)" />
<rect x="218.74" y="328.27" width="4.99" height="5.23" fill="#b5123c" />
<rect x="220.33" y="330.28" width="1.80" height="1.20" fill="rgba(255,150,170,0.55)" />
<rect x="223.73" y="328.27" width="4.99" height="5.23" fill="#b5123c" />
<rect x="225.32" y="330.28" width="1.80" height="1.20" fill="rgba(255,150,170,0.55)" />
<rect x="228.71" y="328.27" width="4.99" height="5.23" fill="#b5123c" />
<rect x="230.31" y="330.28" width="1.80" height="1.20" fill="rgba(255,150,170,0.55)" />
<rect x="233.70" y="328.27" width="4.99" height="5.23" fill="#b5123c" />
<rect x="235.29" y="330.28" width="1.80" height="1.20" fill="rgba(255,150,170,0.55)" />
<rect x="238.69" y="328.27" width="4.99" height="5.23" fill="#b5123c" />
<rect x="240.28" y="330.28" width="1.80" height="1.20" fill="rgba(255,150,170,0.55)" />
<rect x="243.68" y="328.27" width="4.99" height="5.23" fill="#b5123c" />
<rect x="245.27" y="330.28" width="1.80" height="1.20" fill="rgba(255,150,170,0.55)" />
<rect x="248.66" y="328.27" width="4.99" height="5.23" fill="#b5123c" />
<rect x="250.26" y="330.28" width="1.80" height="1.20" fill="rgba(255,150,170,0.55)" />
<rect x="253.65" y="328.27" width="4.99" height="5.23" fill="#b5123c" />
<rect x="255.24" y="330.28" width="1.80" height="1.20" fill="rgba(255,150,170,0.55)" />
<rect x="258.64" y="328.27" width="4.99" height="5.23" fill="#b5123c" />
<rect x="260.23" y="330.28" width="1.80" height="1.20" fill="rgba(255,150,170,0.55)" />
<rect x="263.62" y="328.27" width="4.99" height="5.23" fill="#b5123c" />
<rect x="265.22" y="330.28" width="1.80" height="1.20" fill="rgba(255,150,170,0.55)" />
<rect x="268.61" y="328.27" width="4.99" height="5.23" fill="#b5123c" />
<rect x="270.21" y="330.28" width="1.80" height="1.20" fill="rgba(255,150,170,0.55)" />
<rect x="273.60" y="328.27" width="4.90" height="5.23" fill="#b5123c" />
<rect x="275.15" y="330.28" width="1.80" height="1.20" fill="rgba(255,150,170,0.55)" />
<rect x="278.50" y="328.27" width="6.50" height="5.23" fill="#b5123c" />
<rect x="280.85" y="330.28" width="1.80" height="1.20" fill="rgba(255,150,170,0.55)" />
<rect x="285.00" y="328.27" width="6.50" height="5.23" fill="#b5123c" />
<rect x="287.35" y="330.28" width="1.80" height="1.20" fill="rgba(255,150,170,0.55)" />
<rect x="291.50" y="328.27" width="6.20" height="5.23" fill="#b5123c" />
<rect x="293.70" y="330.28" width="1.80" height="1.20" fill="rgba(255,150,170,0.55)" />
<rect x="297.70" y="328.27" width="6.50" height="5.23" fill="#b5123c" />
<rect x="300.05" y="330.28" width="1.80" height="1.20" fill="rgba(255,150,170,0.55)" />
<rect x="304.20" y="328.27" width="6.20" height="5.23" fill="#b5123c" />
<rect x="306.40" y="330.28" width="1.80" height="1.20" fill="rgba(255,150,170,0.55)" />
<rect x="310.40" y="328.27" width="6.10" height="5.23" fill="#b5123c" />
<rect x="312.55" y="330.28" width="1.80" height="1.20" fill="rgba(255,150,170,0.55)" />
<rect x="316.50" y="328.27" width="5.00" height="5.23" fill="#b5123c" />
<rect x="318.10" y="330.28" width="1.80" height="1.20" fill="rgba(255,150,170,0.55)" />
<rect x="321.50" y="328.27" width="5.00" height="5.23" fill="#b5123c" />
<rect x="323.10" y="330.28" width="1.80" height="1.20" fill="rgba(255,150,170,0.55)" />
<rect x="326.50" y="328.27" width="5.00" height="5.23" fill="#b5123c" />
<rect x="328.10" y="330.28" width="1.80" height="1.20" fill="rgba(255,150,170,0.55)" />
<rect x="331.50" y="328.27" width="5.00" height="5.23" fill="#b5123c" />
<rect x="333.10" y="330.28" width="1.80" height="1.20" fill="rgba(255,150,170,0.55)" />
<rect x="336.50" y="328.27" width="5.00" height="5.23" fill="#b5123c" />
<rect x="338.10" y="330.28" width="1.80" height="1.20" fill="rgba(255,150,170,0.55)" />
<rect x="341.50" y="328.27" width="5.00" height="5.23" fill="#b5123c" />
<rect x="343.10" y="330.28" width="1.80" height="1.20" fill="rgba(255,150,170,0.55)" />
<rect x="346.50" y="328.27" width="5.00" height="5.23" fill="#b5123c" />
<rect x="348.10" y="330.28" width="1.80" height="1.20" fill="rgba(255,150,170,0.55)" />
<rect x="351.50" y="328.27" width="5.00" height="5.23" fill="#b5123c" />
<rect x="353.10" y="330.28" width="1.80" height="1.20" fill="rgba(255,150,170,0.55)" />
<rect x="356.50" y="328.27" width="5.00" height="5.23" fill="#b5123c" />
<rect x="358.10" y="330.28" width="1.80" height="1.20" fill="rgba(255,150,170,0.55)" />
<rect x="361.50" y="328.27" width="5.00" height="5.23" fill="#b5123c" />
<rect x="363.10" y="330.28" width="1.80" height="1.20" fill="rgba(255,150,170,0.55)" />
<rect x="366.50" y="328.27" width="5.00" height="5.23" fill="#b5123c" />
<rect x="368.10" y="330.28" width="1.80" height="1.20" fill="rgba(255,150,170,0.55)" />
<rect x="371.50" y="328.27" width="5.00" height="5.23" fill="#b5123c" />
<rect x="373.10" y="330.28" width="1.80" height="1.20" fill="rgba(255,150,170,0.55)" />
<rect x="376.50" y="328.27" width="5.00" height="5.23" fill="#b5123c" />
<rect x="378.10" y="330.28" width="1.80" height="1.20" fill="rgba(255,150,170,0.55)" />
<rect x="381.50" y="328.27" width="5.00" height="5.23" fill="#b5123c" />
<rect x="383.10" y="330.28" width="1.80" height="1.20" fill="rgba(255,150,170,0.55)" />
<rect x="386.50" y="328.27" width="5.00" height="5.23" fill="#b5123c" />
<rect x="388.10" y="330.28" width="1.80" height="1.20" fill="rgba(255,150,170,0.55)" />
<rect x="391.50" y="328.27" width="5.00" height="5.23" fill="#b5123c" />
<rect x="393.10" y="330.28" width="1.80" height="1.20" fill="rgba(255,150,170,0.55)" />
<rect x="396.50" y="328.27" width="5.00" height="5.23" fill="#b5123c" />
<rect x="398.10" y="330.28" width="1.80" height="1.20" fill="rgba(255,150,170,0.55)" />
<rect x="401.50" y="328.27" width="5.00" height="5.23" fill="#b5123c" />
<rect x="403.10" y="330.28" width="1.80" height="1.20" fill="rgba(255,150,170,0.55)" />
<rect x="406.50" y="328.27" width="5.00" height="5.23" fill="#b5123c" />
<rect x="408.10" y="330.28" width="1.80" height="1.20" fill="rgba(255,150,170,0.55)" />
<rect x="411.50" y="328.27" width="5.00" height="5.23" fill="#b5123c" />
<rect x="413.10" y="330.28" width="1.80" height="1.20" fill="rgba(255,150,170,0.55)" />
<rect x="416.50" y="328.27" width="5.00" height="5.23" fill="#b5123c" />
<rect x="418.10" y="330.28" width="1.80" height="1.20" fill="rgba(255,150,170,0.55)" />
<rect x="421.50" y="328.27" width="5.00" height="5.23" fill="#b5123c" />
<rect x="423.10" y="330.28" width="1.80" height="1.20" fill="rgba(255,150,170,0.55)" />
<rect x="426.50" y="328.27" width="5.00" height="5.23" fill="#b5123c" />
<rect x="428.10" y="330.28" width="1.80" height="1.20" fill="rgba(255,150,170,0.55)" />
<rect x="431.50" y="328.27" width="5.00" height="5.23" fill="#b5123c" />
<rect x="433.10" y="330.28" width="1.80" height="1.20" fill="rgba(255,150,170,0.55)" />
<rect x="436.50" y="328.27" width="5.00" height="5.23" fill="#b5123c" />
<rect x="438.10" y="330.28" width="1.80" height="1.20" fill="rgba(255,150,170,0.55)" />
<rect x="441.50" y="328.27" width="5.00" height="5.23" fill="#b5123c" />
<rect x="443.10" y="330.28" width="1.80" height="1.20" fill="rgba(255,150,170,0.55)" />
<rect x="446.50" y="328.27" width="5.00" height="5.23" fill="#b5123c" />
<rect x="448.10" y="330.28" width="1.80" height="1.20" fill="rgba(255,150,170,0.55)" />
<rect x="451.50" y="328.27" width="5.00" height="5.23" fill="#b5123c" />
<rect x="453.10" y="330.28" width="1.80" height="1.20" fill="rgba(255,150,170,0.55)" />
<rect x="456.50" y="328.27" width="5.00" height="5.23" fill="#b5123c" />
<rect x="458.10" y="330.28" width="1.80" height="1.20" fill="rgba(255,150,170,0.55)" />
<rect x="461.50" y="328.27" width="5.00" height="5.23" fill="#b5123c" />
<rect x="463.10" y="330.28" width="1.80" height="1.20" fill="rgba(255,150,170,0.55)" />
<rect x="466.50" y="328.27" width="5.00" height="5.23" fill="#b5123c" />
<rect x="468.10" y="330.28" width="1.80" height="1.20" fill="rgba(255,150,170,0.55)" />
<rect x="471.50" y="328.27" width="5.00" height="5.23" fill="#b5123c" />
<rect x="473.10" y="330.28" width="1.80" height="1.20" fill="rgba(255,150,170,0.55)" />
<rect x="476.50" y="328.27" width="5.00" height="5.23" fill="#b5123c" />
<rect x="478.10" y="330.28" width="1.80" height="1.20" fill="rgba(255,150,170,0.55)" />
<rect x="481.50" y="328.27" width="5.00" height="5.23" fill="#b5123c" />
<rect x="483.10" y="330.28" width="1.80" height="1.20" fill="rgba(255,150,170,0.55)" />
<rect x="486.50" y="328.27" width="5.00" height="5.23" fill="#b5123c" />
<rect x="488.10" y="330.28" width="1.80" height="1.20" fill="rgba(255,150,170,0.55)" />
<rect x="491.50" y="328.27" width="6.20" height="5.23" fill="#b5123c" />
<rect x="493.70" y="330.28" width="1.80" height="1.20" fill="rgba(255,150,170,0.55)" />
<line x1="8.40" y1="197.40" x2="510.50" y2="197.40" stroke="rgba(0,0,0,0.58)" stroke-width="0.95" />
<line x1="8.40" y1="197.40" x2="34.20" y2="197.40" stroke="rgba(0,0,0,0.45)" stroke-width="1.2" />
<line x1="8.40" y1="202.63" x2="510.50" y2="202.63" stroke="rgba(0,0,0,0.58)" stroke-width="0.95" />
<line x1="8.40" y1="202.63" x2="34.20" y2="202.63" stroke="rgba(0,0,0,0.45)" stroke-width="1.2" />
<line x1="8.40" y1="207.87" x2="510.50" y2="207.87" stroke="rgba(0,0,0,0.58)" stroke-width="0.95" />
<line x1="8.40" y1="207.87" x2="34.20" y2="207.87" stroke="rgba(0,0,0,0.45)" stroke-width="1.2" />
<line x1="8.40" y1="213.10" x2="510.50" y2="213.10" stroke="rgba(0,0,0,0.58)" stroke-width="0.95" />
<line x1="8.40" y1="213.10" x2="34.20" y2="213.10" stroke="rgba(0,0,0,0.45)" stroke-width="1.2" />
<line x1="8.40" y1="218.34" x2="510.50" y2="218.34" stroke="rgba(0,0,0,0.58)" stroke-width="0.95" />
<line x1="8.40" y1="218.34" x2="34.20" y2="218.34" stroke="rgba(0,0,0,0.45)" stroke-width="1.2" />
<line x1="8.40" y1="223.57" x2="510.50" y2="223.57" stroke="rgba(0,0,0,0.58)" stroke-width="0.95" />
<line x1="8.40" y1="223.57" x2="34.20" y2="223.57" stroke="rgba(0,0,0,0.45)" stroke-width="1.2" />
<line x1="8.40" y1="228.81" x2="510.50" y2="228.81" stroke="rgba(0,0,0,0.58)" stroke-width="0.95" />
<line x1="8.40" y1="228.81" x2="34.20" y2="228.81" stroke="rgba(0,0,0,0.45)" stroke-width="1.2" />
<line x1="8.40" y1="234.04" x2="510.50" y2="234.04" stroke="rgba(0,0,0,0.58)" stroke-width="0.95" />
<line x1="8.40" y1="234.04" x2="34.20" y2="234.04" stroke="rgba(0,0,0,0.45)" stroke-width="1.2" />
<line x1="8.40" y1="239.28" x2="510.50" y2="239.28" stroke="rgba(0,0,0,0.58)" stroke-width="0.95" />
<line x1="8.40" y1="239.28" x2="34.20" y2="239.28" stroke="rgba(0,0,0,0.45)" stroke-width="1.2" />
<line x1="8.40" y1="244.51" x2="510.50" y2="244.51" stroke="rgba(0,0,0,0.58)" stroke-width="0.95" />
<line x1="8.40" y1="244.51" x2="34.20" y2="244.51" stroke="rgba(0,0,0,0.45)" stroke-width="1.2" />
<line x1="8.40" y1="249.75" x2="510.50" y2="249.75" stroke="rgba(0,0,0,0.58)" stroke-width="0.95" />
<line x1="8.40" y1="249.75" x2="34.20" y2="249.75" stroke="rgba(0,0,0,0.45)" stroke-width="1.2" />
<line x1="8.40" y1="254.98" x2="510.50" y2="254.98" stroke="rgba(0,0,0,0.58)" stroke-width="0.95" />
<line x1="8.40" y1="254.98" x2="34.20" y2="254.98" stroke="rgba(0,0,0,0.45)" stroke-width="1.2" />
<line x1="8.40" y1="260.22" x2="510.50" y2="260.22" stroke="rgba(0,0,0,0.58)" stroke-width="0.95" />
<line x1="8.40" y1="260.22" x2="34.20" y2="260.22" stroke="rgba(0,0,0,0.45)" stroke-width="1.2" />
<line x1="8.40" y1="265.45" x2="510.50" y2="265.45" stroke="rgba(0,0,0,0.58)" stroke-width="0.95" />
<line x1="8.40" y1="265.45" x2="34.20" y2="265.45" stroke="rgba(0,0,0,0.45)" stroke-width="1.2" />
<line x1="8.40" y1="270.68" x2="510.50" y2="270.68" stroke="rgba(0,0,0,0.58)" stroke-width="0.95" />
<line x1="8.40" y1="270.68" x2="34.20" y2="270.68" stroke="rgba(0,0,0,0.45)" stroke-width="1.2" />
<line x1="8.40" y1="275.92" x2="510.50" y2="275.92" stroke="rgba(0,0,0,0.58)" stroke-width="0.95" />
<line x1="8.40" y1="275.92" x2="34.20" y2="275.92" stroke="rgba(0,0,0,0.45)" stroke-width="1.2" />
<line x1="8.40" y1="281.15" x2="510.50" y2="281.15" stroke="rgba(0,0,0,0.58)" stroke-width="0.95" />
<line x1="8.40" y1="281.15" x2="34.20" y2="281.15" stroke="rgba(0,0,0,0.45)" stroke-width="1.2" />
<line x1="8.40" y1="286.39" x2="510.50" y2="286.39" stroke="rgba(0,0,0,0.58)" stroke-width="0.95" />
<line x1="8.40" y1="286.39" x2="34.20" y2="286.39" stroke="rgba(0,0,0,0.45)" stroke-width="1.2" />
<line x1="8.40" y1="291.62" x2="510.50" y2="291.62" stroke="rgba(0,0,0,0.58)" stroke-width="0.95" />
<line x1="8.40" y1="291.62" x2="34.20" y2="291.62" stroke="rgba(0,0,0,0.45)" stroke-width="1.2" />
<line x1="8.40" y1="296.86" x2="510.50" y2="296.86" stroke="rgba(0,0,0,0.58)" stroke-width="0.95" />
<line x1="8.40" y1="296.86" x2="34.20" y2="296.86" stroke="rgba(0,0,0,0.45)" stroke-width="1.2" />
<line x1="8.40" y1="302.09" x2="510.50" y2="302.09" stroke="rgba(0,0,0,0.58)" stroke-width="0.95" />
<line x1="8.40" y1="302.09" x2="34.20" y2="302.09" stroke="rgba(0,0,0,0.45)" stroke-width="1.2" />
<line x1="8.40" y1="307.33" x2="510.50" y2="307.33" stroke="rgba(0,0,0,0.58)" stroke-width="0.95" />
<line x1="8.40" y1="307.33" x2="34.20" y2="307.33" stroke="rgba(0,0,0,0.45)" stroke-width="1.2" />
<line x1="8.40" y1="312.56" x2="510.50" y2="312.56" stroke="rgba(0,0,0,0.58)" stroke-width="0.95" />
<line x1="8.40" y1="312.56" x2="34.20" y2="312.56" stroke="rgba(0,0,0,0.45)" stroke-width="1.2" />
<line x1="8.40" y1="317.80" x2="510.50" y2="317.80" stroke="rgba(0,0,0,0.58)" stroke-width="0.95" />
<line x1="8.40" y1="317.80" x2="34.20" y2="317.80" stroke="rgba(0,0,0,0.45)" stroke-width="1.2" />
<line x1="8.40" y1="323.03" x2="510.50" y2="323.03" stroke="rgba(0,0,0,0.58)" stroke-width="0.95" />
<line x1="8.40" y1="323.03" x2="34.20" y2="323.03" stroke="rgba(0,0,0,0.45)" stroke-width="1.2" />
<line x1="8.40" y1="328.27" x2="510.50" y2="328.27" stroke="rgba(0,0,0,0.58)" stroke-width="0.95" />
<line x1="8.40" y1="328.27" x2="34.20" y2="328.27" stroke="rgba(0,0,0,0.45)" stroke-width="1.2" />
<line x1="8.40" y1="333.50" x2="510.50" y2="333.50" stroke="rgba(0,0,0,0.58)" stroke-width="0.95" />
<line x1="8.40" y1="333.50" x2="34.20" y2="333.50" stroke="rgba(0,0,0,0.45)" stroke-width="1.2" />
<line x1="34.20" y1="168.80" x2="34.20" y2="333.50" stroke="rgba(0,0,0,0.66)" stroke-width="0.95" />
<line x1="39.19" y1="168.80" x2="39.19" y2="333.50" stroke="rgba(0,0,0,0.66)" stroke-width="0.95" />
<line x1="44.18" y1="168.80" x2="44.18" y2="333.50" stroke="rgba(0,0,0,0.66)" stroke-width="0.95" />
<line x1="49.16" y1="168.80" x2="49.16" y2="333.50" stroke="rgba(0,0,0,0.66)" stroke-width="0.95" />
<line x1="54.15" y1="168.80" x2="54.15" y2="333.50" stroke="rgba(0,0,0,0.66)" stroke-width="0.95" />
<line x1="59.14" y1="168.80" x2="59.14" y2="333.50" stroke="rgba(0,0,0,0.66)" stroke-width="0.95" />
<line x1="64.12" y1="168.80" x2="64.12" y2="333.50" stroke="rgba(0,0,0,0.66)" stroke-width="0.95" />
<line x1="69.11" y1="168.80" x2="69.11" y2="333.50" stroke="rgba(0,0,0,0.66)" stroke-width="0.95" />
<line x1="74.10" y1="168.80" x2="74.10" y2="333.50" stroke="rgba(0,0,0,0.66)" stroke-width="0.95" />
<line x1="79.09" y1="168.80" x2="79.09" y2="333.50" stroke="rgba(0,0,0,0.66)" stroke-width="0.95" />
<line x1="84.08" y1="168.80" x2="84.08" y2="333.50" stroke="rgba(0,0,0,0.66)" stroke-width="0.95" />
<line x1="89.06" y1="168.80" x2="89.06" y2="333.50" stroke="rgba(0,0,0,0.66)" stroke-width="0.95" />
<line x1="94.05" y1="168.80" x2="94.05" y2="333.50" stroke="rgba(0,0,0,0.66)" stroke-width="0.95" />
<line x1="99.04" y1="168.80" x2="99.04" y2="333.50" stroke="rgba(0,0,0,0.66)" stroke-width="0.95" />
<line x1="104.03" y1="168.80" x2="104.03" y2="333.50" stroke="rgba(0,0,0,0.66)" stroke-width="0.95" />
<line x1="109.01" y1="168.80" x2="109.01" y2="333.50" stroke="rgba(0,0,0,0.66)" stroke-width="0.95" />
<line x1="114.00" y1="168.80" x2="114.00" y2="333.50" stroke="rgba(0,0,0,0.66)" stroke-width="0.95" />
<line x1="118.99" y1="168.80" x2="118.99" y2="333.50" stroke="rgba(0,0,0,0.66)" stroke-width="0.95" />
<line x1="123.97" y1="168.80" x2="123.97" y2="333.50" stroke="rgba(0,0,0,0.66)" stroke-width="0.95" />
<line x1="128.96" y1="168.80" x2="128.96" y2="333.50" stroke="rgba(0,0,0,0.66)" stroke-width="0.95" />
<line x1="133.95" y1="168.80" x2="133.95" y2="333.50" stroke="rgba(0,0,0,0.66)" stroke-width="0.95" />
<line x1="138.94" y1="168.80" x2="138.94" y2="333.50" stroke="rgba(0,0,0,0.66)" stroke-width="0.95" />
<line x1="143.93" y1="168.80" x2="143.93" y2="333.50" stroke="rgba(0,0,0,0.66)" stroke-width="0.95" />
<line x1="148.91" y1="168.80" x2="148.91" y2="333.50" stroke="rgba(0,0,0,0.66)" stroke-width="0.95" />
<line x1="153.90" y1="168.80" x2="153.90" y2="333.50" stroke="rgba(0,0,0,0.66)" stroke-width="0.95" />
<line x1="158.89" y1="168.80" x2="158.89" y2="333.50" stroke="rgba(0,0,0,0.66)" stroke-width="0.95" />
<line x1="163.88" y1="168.80" x2="163.88" y2="333.50" stroke="rgba(0,0,0,0.66)" stroke-width="0.95" />
<line x1="168.86" y1="168.80" x2="168.86" y2="333.50" stroke="rgba(0,0,0,0.66)" stroke-width="0.95" />
<line x1="173.85" y1="168.80" x2="173.85" y2="333.50" stroke="rgba(0,0,0,0.66)" stroke-width="0.95" />
<line x1="178.84" y1="168.80" x2="178.84" y2="333.50" stroke="rgba(0,0,0,0.66)" stroke-width="0.95" />
<line x1="183.82" y1="168.80" x2="183.82" y2="333.50" stroke="rgba(0,0,0,0.66)" stroke-width="0.95" />
<line x1="188.81" y1="168.80" x2="188.81" y2="333.50" stroke="rgba(0,0,0,0.66)" stroke-width="0.95" />
<line x1="193.80" y1="168.80" x2="193.80" y2="333.50" stroke="rgba(0,0,0,0.66)" stroke-width="0.95" />
<line x1="198.79" y1="168.80" x2="198.79" y2="333.50" stroke="rgba(0,0,0,0.66)" stroke-width="0.95" />
<line x1="203.77" y1="168.80" x2="203.77" y2="333.50" stroke="rgba(0,0,0,0.66)" stroke-width="0.95" />
<line x1="208.76" y1="168.80" x2="208.76" y2="333.50" stroke="rgba(0,0,0,0.66)" stroke-width="0.95" />
<line x1="213.75" y1="168.80" x2="213.75" y2="333.50" stroke="rgba(0,0,0,0.66)" stroke-width="0.95" />
<line x1="218.74" y1="168.80" x2="218.74" y2="333.50" stroke="rgba(0,0,0,0.66)" stroke-width="0.95" />
<line x1="223.73" y1="168.80" x2="223.73" y2="333.50" stroke="rgba(0,0,0,0.66)" stroke-width="0.95" />
<line x1="228.71" y1="168.80" x2="228.71" y2="333.50" stroke="rgba(0,0,0,0.66)" stroke-width="0.95" />
<line x1="233.70" y1="168.80" x2="233.70" y2="333.50" stroke="rgba(0,0,0,0.66)" stroke-width="0.95" />
<line x1="238.69" y1="168.80" x2="238.69" y2="333.50" stroke="rgba(0,0,0,0.66)" stroke-width="0.95" />
<line x1="243.68" y1="168.80" x2="243.68" y2="333.50" stroke="rgba(0,0,0,0.66)" stroke-width="0.95" />
<line x1="248.66" y1="168.80" x2="248.66" y2="333.50" stroke="rgba(0,0,0,0.66)" stroke-width="0.95" />
<line x1="253.65" y1="168.80" x2="253.65" y2="333.50" stroke="rgba(0,0,0,0.66)" stroke-width="0.95" />
<line x1="258.64" y1="168.80" x2="258.64" y2="333.50" stroke="rgba(0,0,0,0.66)" stroke-width="0.95" />
<line x1="263.62" y1="168.80" x2="263.62" y2="333.50" stroke="rgba(0,0,0,0.66)" stroke-width="0.95" />
<line x1="268.61" y1="168.80" x2="268.61" y2="333.50" stroke="rgba(0,0,0,0.66)" stroke-width="0.95" />
<line x1="273.60" y1="168.80" x2="273.60" y2="333.50" stroke="rgba(0,0,0,0.66)" stroke-width="0.95" />
<line x1="278.50" y1="168.80" x2="278.50" y2="333.50" stroke="rgba(0,0,0,0.66)" stroke-width="0.95" />
<line x1="285.00" y1="168.80" x2="285.00" y2="333.50" stroke="rgba(0,0,0,0.66)" stroke-width="0.95" />
<line x1="291.50" y1="168.80" x2="291.50" y2="333.50" stroke="rgba(0,0,0,0.66)" stroke-width="0.95" />
<line x1="297.70" y1="168.80" x2="297.70" y2="333.50" stroke="rgba(0,0,0,0.66)" stroke-width="0.95" />
<line x1="304.20" y1="168.80" x2="304.20" y2="333.50" stroke="rgba(0,0,0,0.66)" stroke-width="0.95" />
<line x1="310.40" y1="168.80" x2="310.40" y2="333.50" stroke="rgba(0,0,0,0.66)" stroke-width="0.95" />
<line x1="316.50" y1="168.80" x2="316.50" y2="333.50" stroke="rgba(0,0,0,0.66)" stroke-width="0.95" />
<line x1="321.50" y1="168.80" x2="321.50" y2="333.50" stroke="rgba(0,0,0,0.66)" stroke-width="0.95" />
<line x1="326.50" y1="168.80" x2="326.50" y2="333.50" stroke="rgba(0,0,0,0.66)" stroke-width="0.95" />
<line x1="331.50" y1="168.80" x2="331.50" y2="333.50" stroke="rgba(0,0,0,0.66)" stroke-width="0.95" />
<line x1="336.50" y1="168.80" x2="336.50" y2="333.50" stroke="rgba(0,0,0,0.66)" stroke-width="0.95" />
<line x1="341.50" y1="168.80" x2="341.50" y2="333.50" stroke="rgba(0,0,0,0.66)" stroke-width="0.95" />
<line x1="346.50" y1="168.80" x2="346.50" y2="333.50" stroke="rgba(0,0,0,0.66)" stroke-width="0.95" />
<line x1="351.50" y1="168.80" x2="351.50" y2="333.50" stroke="rgba(0,0,0,0.66)" stroke-width="0.95" />
<line x1="356.50" y1="168.80" x2="356.50" y2="333.50" stroke="rgba(0,0,0,0.66)" stroke-width="0.95" />
<line x1="361.50" y1="168.80" x2="361.50" y2="333.50" stroke="rgba(0,0,0,0.66)" stroke-width="0.95" />
<line x1="366.50" y1="168.80" x2="366.50" y2="333.50" stroke="rgba(0,0,0,0.66)" stroke-width="0.95" />
<line x1="371.50" y1="168.80" x2="371.50" y2="333.50" stroke="rgba(0,0,0,0.66)" stroke-width="0.95" />
<line x1="376.50" y1="168.80" x2="376.50" y2="333.50" stroke="rgba(0,0,0,0.66)" stroke-width="0.95" />
<line x1="381.50" y1="168.80" x2="381.50" y2="333.50" stroke="rgba(0,0,0,0.66)" stroke-width="0.95" />
<line x1="386.50" y1="168.80" x2="386.50" y2="333.50" stroke="rgba(0,0,0,0.66)" stroke-width="0.95" />
<line x1="391.50" y1="168.80" x2="391.50" y2="333.50" stroke="rgba(0,0,0,0.66)" stroke-width="0.95" />
<line x1="396.50" y1="168.80" x2="396.50" y2="333.50" stroke="rgba(0,0,0,0.66)" stroke-width="0.95" />
<line x1="401.50" y1="168.80" x2="401.50" y2="333.50" stroke="rgba(0,0,0,0.66)" stroke-width="0.95" />
<line x1="406.50" y1="168.80" x2="406.50" y2="333.50" stroke="rgba(0,0,0,0.66)" stroke-width="0.95" />
<line x1="411.50" y1="168.80" x2="411.50" y2="333.50" stroke="rgba(0,0,0,0.66)" stroke-width="0.95" />
<line x1="416.50" y1="168.80" x2="416.50" y2="333.50" stroke="rgba(0,0,0,0.66)" stroke-width="0.95" />
<line x1="421.50" y1="168.80" x2="421.50" y2="333.50" stroke="rgba(0,0,0,0.66)" stroke-width="0.95" />
<line x1="426.50" y1="168.80" x2="426.50" y2="333.50" stroke="rgba(0,0,0,0.66)" stroke-width="0.95" />
<line x1="431.50" y1="168.80" x2="431.50" y2="333.50" stroke="rgba(0,0,0,0.66)" stroke-width="0.95" />
<line x1="436.50" y1="168.80" x2="436.50" y2="333.50" stroke="rgba(0,0,0,0.66)" stroke-width="0.95" />
<line x1="441.50" y1="168.80" x2="441.50" y2="333.50" stroke="rgba(0,0,0,0.66)" stroke-width="0.95" />
<line x1="446.50" y1="168.80" x2="446.50" y2="333.50" stroke="rgba(0,0,0,0.66)" stroke-width="0.95" />
<line x1="451.50" y1="168.80" x2="451.50" y2="333.50" stroke="rgba(0,0,0,0.66)" stroke-width="0.95" />
<line x1="456.50" y1="168.80" x2="456.50" y2="333.50" stroke="rgba(0,0,0,0.66)" stroke-width="0.95" />
<line x1="461.50" y1="168.80" x2="461.50" y2="333.50" stroke="rgba(0,0,0,0.66)" stroke-width="0.95" />
<line x1="466.50" y1="168.80" x2="466.50" y2="333.50" stroke="rgba(0,0,0,0.66)" stroke-width="0.95" />
<line x1="471.50" y1="168.80" x2="471.50" y2="333.50" stroke="rgba(0,0,0,0.66)" stroke-width="0.95" />
<line x1="476.50" y1="168.80" x2="476.50" y2="333.50" stroke="rgba(0,0,0,0.66)" stroke-width="0.95" />
<line x1="481.50" y1="168.80" x2="481.50" y2="333.50" stroke="rgba(0,0,0,0.66)" stroke-width="0.95" />
<line x1="486.50" y1="168.80" x2="486.50" y2="333.50" stroke="rgba(0,0,0,0.66)" stroke-width="0.95" />
<line x1="491.50" y1="168.80" x2="491.50" y2="333.50" stroke="rgba(0,0,0,0.66)" stroke-width="0.95" />
<line x1="497.70" y1="168.80" x2="497.70" y2="333.50" stroke="rgba(0,0,0,0.66)" stroke-width="0.95" />
<rect x="8.4" y="168.8" width="502.10" height="164.70" fill="none" stroke="#3a3a3a" stroke-width="1.1"/>
<line x1="8.40" y1="197.40" x2="510.50" y2="197.40" stroke="#404040" stroke-width="1.1" />
<text transform="translate(22.60,183.60) rotate(-90)" text-anchor="middle" fill="#3a3a3a" style="font-size:4.4px;stroke:#3a3a3a;stroke-width:0.15px;" >Case #</text>
<rect x="35.59" y="184.50" width="2.20" height="1.40" fill="#333" />
<rect x="35.99" y="180.30" width="1.60" height="2.80" fill="#8c8c8c" />
<rect x="40.58" y="184.50" width="2.20" height="1.40" fill="#333" />
<rect x="40.98" y="180.30" width="1.60" height="2.80" fill="#8c8c8c" />
<rect x="45.57" y="184.50" width="2.20" height="1.40" fill="#333" />
<rect x="45.97" y="180.30" width="1.60" height="2.80" fill="#8c8c8c" />
<rect x="50.56" y="184.50" width="2.20" height="1.40" fill="#333" />
<rect x="50.96" y="180.30" width="1.60" height="2.80" fill="#8c8c8c" />
<rect x="55.54" y="184.50" width="2.20" height="1.40" fill="#333" />
<rect x="55.94" y="180.30" width="1.60" height="2.80" fill="#8c8c8c" />
<rect x="60.53" y="184.50" width="2.20" height="1.40" fill="#333" />
<rect x="60.93" y="180.30" width="1.60" height="2.80" fill="#8c8c8c" />
<rect x="65.52" y="184.50" width="2.20" height="1.40" fill="#333" />
<rect x="65.92" y="180.30" width="1.60" height="2.80" fill="#8c8c8c" />
<rect x="70.51" y="184.50" width="2.20" height="1.40" fill="#333" />
<rect x="70.91" y="180.30" width="1.60" height="2.80" fill="#8c8c8c" />
<rect x="75.49" y="184.50" width="2.20" height="1.40" fill="#333" />
<rect x="75.89" y="180.30" width="1.60" height="2.80" fill="#8c8c8c" />
<rect x="80.48" y="184.50" width="2.20" height="1.40" fill="#333" />
<rect x="80.88" y="178.90" width="1.60" height="4.20" fill="#8c8c8c" />
<rect x="85.47" y="184.50" width="2.20" height="1.40" fill="#333" />
<rect x="85.87" y="178.90" width="1.60" height="4.20" fill="#8c8c8c" />
<rect x="90.46" y="184.50" width="2.20" height="1.40" fill="#333" />
<rect x="90.86" y="178.90" width="1.60" height="4.20" fill="#8c8c8c" />
<rect x="95.44" y="184.50" width="2.20" height="1.40" fill="#333" />
<rect x="95.84" y="178.90" width="1.60" height="4.20" fill="#8c8c8c" />
<rect x="100.43" y="184.50" width="2.20" height="1.40" fill="#333" />
<rect x="100.83" y="178.90" width="1.60" height="4.20" fill="#8c8c8c" />
<rect x="105.42" y="184.50" width="2.20" height="1.40" fill="#333" />
<rect x="105.82" y="178.90" width="1.60" height="4.20" fill="#8c8c8c" />
<rect x="110.41" y="184.50" width="2.20" height="1.40" fill="#333" />
<rect x="110.81" y="178.90" width="1.60" height="4.20" fill="#8c8c8c" />
<rect x="115.39" y="184.50" width="2.20" height="1.40" fill="#333" />
<rect x="115.79" y="178.90" width="1.60" height="4.20" fill="#8c8c8c" />
<rect x="120.38" y="184.50" width="2.20" height="1.40" fill="#333" />
<rect x="120.78" y="178.90" width="1.60" height="4.20" fill="#8c8c8c" />
<rect x="125.37" y="184.50" width="2.20" height="1.40" fill="#333" />
<rect x="125.77" y="178.90" width="1.60" height="4.20" fill="#8c8c8c" />
<rect x="130.36" y="184.50" width="2.20" height="1.40" fill="#333" />
<rect x="130.76" y="178.90" width="1.60" height="4.20" fill="#8c8c8c" />
<rect x="135.34" y="184.50" width="2.20" height="1.40" fill="#333" />
<rect x="135.74" y="178.90" width="1.60" height="4.20" fill="#8c8c8c" />
<rect x="140.33" y="184.50" width="2.20" height="1.40" fill="#333" />
<rect x="140.73" y="178.90" width="1.60" height="4.20" fill="#8c8c8c" />
<rect x="145.32" y="184.50" width="2.20" height="1.40" fill="#333" />
<rect x="145.72" y="178.90" width="1.60" height="4.20" fill="#8c8c8c" />
<rect x="150.31" y="184.50" width="2.20" height="1.40" fill="#333" />
<rect x="150.71" y="178.90" width="1.60" height="4.20" fill="#8c8c8c" />
<rect x="155.29" y="184.50" width="2.20" height="1.40" fill="#333" />
<rect x="155.69" y="178.90" width="1.60" height="4.20" fill="#8c8c8c" />
<rect x="160.28" y="184.50" width="2.20" height="1.40" fill="#333" />
<rect x="160.68" y="178.90" width="1.60" height="4.20" fill="#8c8c8c" />
<rect x="165.27" y="184.50" width="2.20" height="1.40" fill="#333" />
<rect x="165.67" y="178.90" width="1.60" height="4.20" fill="#8c8c8c" />
<rect x="170.26" y="184.50" width="2.20" height="1.40" fill="#333" />
<rect x="170.66" y="178.90" width="1.60" height="4.20" fill="#8c8c8c" />
<rect x="175.24" y="184.50" width="2.20" height="1.40" fill="#333" />
<rect x="175.64" y="178.90" width="1.60" height="4.20" fill="#8c8c8c" />
<rect x="180.23" y="184.50" width="2.20" height="1.40" fill="#333" />
<rect x="180.63" y="178.90" width="1.60" height="4.20" fill="#8c8c8c" />
<rect x="185.22" y="184.50" width="2.20" height="1.40" fill="#333" />
<rect x="185.62" y="178.90" width="1.60" height="4.20" fill="#8c8c8c" />
<rect x="190.21" y="184.50" width="2.20" height="1.40" fill="#333" />
<rect x="190.61" y="178.90" width="1.60" height="4.20" fill="#8c8c8c" />
<rect x="195.19" y="184.50" width="2.20" height="1.40" fill="#333" />
<rect x="195.59" y="178.90" width="1.60" height="4.20" fill="#8c8c8c" />
<rect x="200.18" y="184.50" width="2.20" height="1.40" fill="#333" />
<rect x="200.58" y="178.90" width="1.60" height="4.20" fill="#8c8c8c" />
<rect x="205.17" y="184.50" width="2.20" height="1.40" fill="#333" />
<rect x="205.57" y="178.90" width="1.60" height="4.20" fill="#8c8c8c" />
<rect x="210.16" y="184.50" width="2.20" height="1.40" fill="#333" />
<rect x="210.56" y="178.90" width="1.60" height="4.20" fill="#8c8c8c" />
<rect x="215.14" y="184.50" width="2.20" height="1.40" fill="#333" />
<rect x="215.54" y="178.90" width="1.60" height="4.20" fill="#8c8c8c" />
<rect x="220.13" y="184.50" width="2.20" height="1.40" fill="#333" />
<rect x="220.53" y="178.90" width="1.60" height="4.20" fill="#8c8c8c" />
<rect x="225.12" y="184.50" width="2.20" height="1.40" fill="#333" />
<rect x="225.52" y="178.90" width="1.60" height="4.20" fill="#8c8c8c" />
<rect x="230.11" y="184.50" width="2.20" height="1.40" fill="#333" />
<rect x="230.51" y="178.90" width="1.60" height="4.20" fill="#8c8c8c" />
<rect x="235.09" y="184.50" width="2.20" height="1.40" fill="#333" />
<rect x="235.49" y="178.90" width="1.60" height="4.20" fill="#8c8c8c" />
<rect x="240.08" y="184.50" width="2.20" height="1.40" fill="#333" />
<rect x="240.48" y="178.90" width="1.60" height="4.20" fill="#8c8c8c" />
<rect x="245.07" y="184.50" width="2.20" height="1.40" fill="#333" />
<rect x="245.47" y="178.90" width="1.60" height="4.20" fill="#8c8c8c" />
<rect x="250.06" y="184.50" width="2.20" height="1.40" fill="#333" />
<rect x="250.46" y="178.90" width="1.60" height="4.20" fill="#8c8c8c" />
<rect x="255.04" y="184.50" width="2.20" height="1.40" fill="#333" />
<rect x="255.44" y="178.90" width="1.60" height="4.20" fill="#8c8c8c" />
<rect x="260.03" y="184.50" width="2.20" height="1.40" fill="#333" />
<rect x="260.43" y="178.90" width="1.60" height="4.20" fill="#8c8c8c" />
<rect x="265.02" y="184.50" width="2.20" height="1.40" fill="#333" />
<rect x="265.42" y="178.90" width="1.60" height="4.20" fill="#8c8c8c" />
<rect x="270.01" y="184.50" width="2.20" height="1.40" fill="#333" />
<rect x="270.41" y="178.90" width="1.60" height="4.20" fill="#8c8c8c" />
<rect x="274.95" y="184.50" width="2.20" height="1.40" fill="#333" />
<rect x="275.35" y="178.90" width="1.60" height="4.20" fill="#8c8c8c" />
<rect x="280.65" y="184.50" width="2.20" height="1.40" fill="#333" />
<rect x="281.05" y="178.90" width="1.60" height="4.20" fill="#8c8c8c" />
<rect x="287.15" y="184.50" width="2.20" height="1.40" fill="#333" />
<rect x="287.55" y="178.90" width="1.60" height="4.20" fill="#8c8c8c" />
<rect x="293.50" y="184.50" width="2.20" height="1.40" fill="#333" />
<rect x="293.90" y="178.90" width="1.60" height="4.20" fill="#8c8c8c" />
<rect x="299.85" y="184.50" width="2.20" height="1.40" fill="#333" />
<rect x="300.25" y="178.90" width="1.60" height="4.20" fill="#8c8c8c" />
<rect x="306.20" y="184.50" width="2.20" height="1.40" fill="#333" />
<rect x="306.60" y="178.90" width="1.60" height="4.20" fill="#8c8c8c" />
<rect x="312.35" y="184.50" width="2.20" height="1.40" fill="#333" />
<rect x="312.75" y="178.90" width="1.60" height="4.20" fill="#8c8c8c" />
<rect x="317.90" y="184.50" width="2.20" height="1.40" fill="#333" />
<rect x="318.30" y="178.90" width="1.60" height="4.20" fill="#8c8c8c" />
<rect x="322.90" y="184.50" width="2.20" height="1.40" fill="#333" />
<rect x="323.30" y="178.90" width="1.60" height="4.20" fill="#8c8c8c" />
<rect x="327.90" y="184.50" width="2.20" height="1.40" fill="#333" />
<rect x="328.30" y="178.90" width="1.60" height="4.20" fill="#8c8c8c" />
<rect x="332.90" y="184.50" width="2.20" height="1.40" fill="#333" />
<rect x="333.30" y="178.90" width="1.60" height="4.20" fill="#8c8c8c" />
<rect x="337.90" y="184.50" width="2.20" height="1.40" fill="#333" />
<rect x="338.30" y="178.90" width="1.60" height="4.20" fill="#8c8c8c" />
<rect x="342.90" y="184.50" width="2.20" height="1.40" fill="#333" />
<rect x="343.30" y="178.90" width="1.60" height="4.20" fill="#8c8c8c" />
<rect x="347.90" y="184.50" width="2.20" height="1.40" fill="#333" />
<rect x="348.30" y="178.90" width="1.60" height="4.20" fill="#8c8c8c" />
<rect x="352.90" y="184.50" width="2.20" height="1.40" fill="#333" />
<rect x="353.30" y="178.90" width="1.60" height="4.20" fill="#8c8c8c" />
<rect x="357.90" y="184.50" width="2.20" height="1.40" fill="#333" />
<rect x="358.30" y="178.90" width="1.60" height="4.20" fill="#8c8c8c" />
<rect x="362.90" y="184.50" width="2.20" height="1.40" fill="#333" />
<rect x="363.30" y="178.90" width="1.60" height="4.20" fill="#8c8c8c" />
<rect x="367.90" y="184.50" width="2.20" height="1.40" fill="#333" />
<rect x="368.30" y="178.90" width="1.60" height="4.20" fill="#8c8c8c" />
<rect x="372.90" y="184.50" width="2.20" height="1.40" fill="#333" />
<rect x="373.30" y="178.90" width="1.60" height="4.20" fill="#8c8c8c" />
<rect x="377.90" y="184.50" width="2.20" height="1.40" fill="#333" />
<rect x="378.30" y="178.90" width="1.60" height="4.20" fill="#8c8c8c" />
<rect x="382.90" y="184.50" width="2.20" height="1.40" fill="#333" />
<rect x="383.30" y="178.90" width="1.60" height="4.20" fill="#8c8c8c" />
<rect x="387.90" y="184.50" width="2.20" height="1.40" fill="#333" />
<rect x="388.30" y="178.90" width="1.60" height="4.20" fill="#8c8c8c" />
<rect x="392.90" y="184.50" width="2.20" height="1.40" fill="#333" />
<rect x="393.30" y="178.90" width="1.60" height="4.20" fill="#8c8c8c" />
<rect x="397.90" y="184.50" width="2.20" height="1.40" fill="#333" />
<rect x="398.30" y="178.90" width="1.60" height="4.20" fill="#8c8c8c" />
<rect x="402.90" y="184.50" width="2.20" height="1.40" fill="#333" />
<rect x="403.30" y="178.90" width="1.60" height="4.20" fill="#8c8c8c" />
<rect x="407.90" y="184.50" width="2.20" height="1.40" fill="#333" />
<rect x="408.30" y="178.90" width="1.60" height="4.20" fill="#8c8c8c" />
<rect x="412.90" y="184.50" width="2.20" height="1.40" fill="#333" />
<rect x="413.30" y="178.90" width="1.60" height="4.20" fill="#8c8c8c" />
<rect x="417.90" y="184.50" width="2.20" height="1.40" fill="#333" />
<rect x="418.30" y="178.90" width="1.60" height="4.20" fill="#8c8c8c" />
<rect x="422.90" y="184.50" width="2.20" height="1.40" fill="#333" />
<rect x="423.30" y="178.90" width="1.60" height="4.20" fill="#8c8c8c" />
<rect x="427.90" y="184.50" width="2.20" height="1.40" fill="#333" />
<rect x="428.30" y="178.90" width="1.60" height="4.20" fill="#8c8c8c" />
<rect x="432.90" y="184.50" width="2.20" height="1.40" fill="#333" />
<rect x="433.30" y="178.90" width="1.60" height="4.20" fill="#8c8c8c" />
<rect x="437.90" y="184.50" width="2.20" height="1.40" fill="#333" />
<rect x="438.30" y="178.90" width="1.60" height="4.20" fill="#8c8c8c" />
<rect x="442.90" y="184.50" width="2.20" height="1.40" fill="#333" />
<rect x="443.30" y="178.90" width="1.60" height="4.20" fill="#8c8c8c" />
<rect x="447.90" y="184.50" width="2.20" height="1.40" fill="#333" />
<rect x="448.30" y="178.90" width="1.60" height="4.20" fill="#8c8c8c" />
<rect x="452.90" y="184.50" width="2.20" height="1.40" fill="#333" />
<rect x="453.30" y="178.90" width="1.60" height="4.20" fill="#8c8c8c" />
<rect x="457.90" y="184.50" width="2.20" height="1.40" fill="#333" />
<rect x="458.30" y="178.90" width="1.60" height="4.20" fill="#8c8c8c" />
<rect x="462.90" y="184.50" width="2.20" height="1.40" fill="#333" />
<rect x="463.30" y="178.90" width="1.60" height="4.20" fill="#8c8c8c" />
<rect x="467.90" y="184.50" width="2.20" height="1.40" fill="#333" />
<rect x="468.30" y="178.90" width="1.60" height="4.20" fill="#8c8c8c" />
<rect x="472.90" y="184.50" width="2.20" height="1.40" fill="#333" />
<rect x="473.30" y="178.90" width="1.60" height="4.20" fill="#8c8c8c" />
<rect x="477.90" y="184.50" width="2.20" height="1.40" fill="#333" />
<rect x="478.30" y="178.90" width="1.60" height="4.20" fill="#8c8c8c" />
<rect x="482.90" y="184.50" width="2.20" height="1.40" fill="#333" />
<rect x="483.30" y="178.90" width="1.60" height="4.20" fill="#8c8c8c" />
<rect x="487.90" y="184.50" width="2.20" height="1.40" fill="#333" />
<rect x="488.30" y="178.90" width="1.60" height="4.20" fill="#8c8c8c" />
<rect x="493.50" y="184.50" width="2.20" height="1.40" fill="#333" />
<rect x="493.90" y="178.90" width="1.60" height="4.20" fill="#8c8c8c" />
<text transform="translate(505.20,183.50) rotate(-90)" text-anchor="middle" fill="#555" style="font-size:3.6px;" >Total patients</text>
<text transform="translate(21.30,201.82)" text-anchor="middle" fill="#6a6a6a" style="font-size:3.5px;" >ASXL1</text>
<text transform="translate(504.10,201.22)" text-anchor="middle" fill="#8a8a8a" style="font-size:3.3px;" >59</text>
<text transform="translate(21.30,207.05)" text-anchor="middle" fill="#6a6a6a" style="font-size:3.5px;" >SRSF2</text>
<text transform="translate(504.10,206.45)" text-anchor="middle" fill="#8a8a8a" style="font-size:3.3px;" >33</text>
<text transform="translate(21.30,212.29)" text-anchor="middle" fill="#6a6a6a" style="font-size:3.5px;" >TET2</text>
<text transform="translate(504.10,211.69)" text-anchor="middle" fill="#8a8a8a" style="font-size:3.3px;" >33</text>
<text transform="translate(21.30,217.52)" text-anchor="middle" fill="#6a6a6a" style="font-size:3.5px;" >RUNX1</text>
<text transform="translate(504.10,216.92)" text-anchor="middle" fill="#8a8a8a" style="font-size:3.3px;" >27</text>
<text transform="translate(21.30,222.76)" text-anchor="middle" fill="#6a6a6a" style="font-size:3.5px;" >BCOR</text>
<text transform="translate(504.10,222.16)" text-anchor="middle" fill="#8a8a8a" style="font-size:3.3px;" >18</text>
<text transform="translate(21.30,227.99)" text-anchor="middle" fill="#6a6a6a" style="font-size:3.5px;" >IDH2</text>
<text transform="translate(504.10,227.39)" text-anchor="middle" fill="#8a8a8a" style="font-size:3.3px;" >16</text>
<text transform="translate(21.30,233.23)" text-anchor="middle" fill="#6a6a6a" style="font-size:3.5px;" >U2AF1</text>
<text transform="translate(504.10,232.62)" text-anchor="middle" fill="#8a8a8a" style="font-size:3.3px;" >12</text>
<text transform="translate(21.30,238.46)" text-anchor="middle" fill="#6a6a6a" style="font-size:3.5px;" >CSF3R</text>
<text transform="translate(504.10,237.86)" text-anchor="middle" fill="#8a8a8a" style="font-size:3.3px;" >3</text>
<text transform="translate(21.30,243.69)" text-anchor="middle" fill="#6a6a6a" style="font-size:3.5px;" >IDH1</text>
<text transform="translate(504.10,243.09)" text-anchor="middle" fill="#8a8a8a" style="font-size:3.3px;" >2</text>
<text transform="translate(21.30,248.93)" text-anchor="middle" fill="#6a6a6a" style="font-size:3.5px;" >PTPN11</text>
<text transform="translate(504.10,248.33)" text-anchor="middle" fill="#8a8a8a" style="font-size:3.3px;" >2</text>
<text transform="translate(21.30,254.16)" text-anchor="middle" fill="#6a6a6a" style="font-size:3.5px;" >PHF6</text>
<text transform="translate(504.10,253.56)" text-anchor="middle" fill="#8a8a8a" style="font-size:3.3px;" >7</text>
<text transform="translate(21.30,259.40)" text-anchor="middle" fill="#6a6a6a" style="font-size:3.5px;" >GATA2</text>
<text transform="translate(504.10,258.80)" text-anchor="middle" fill="#8a8a8a" style="font-size:3.3px;" >4</text>
<text transform="translate(21.30,264.63)" text-anchor="middle" fill="#6a6a6a" style="font-size:3.5px;" >DNMT3A</text>
<text transform="translate(504.10,264.03)" text-anchor="middle" fill="#8a8a8a" style="font-size:3.3px;" >8</text>
<text transform="translate(21.30,269.87)" text-anchor="middle" fill="#6a6a6a" style="font-size:3.5px;" >NF1</text>
<text transform="translate(504.10,269.27)" text-anchor="middle" fill="#8a8a8a" style="font-size:3.3px;" >8</text>
<text transform="translate(21.30,275.10)" text-anchor="middle" fill="#6a6a6a" style="font-size:3.5px;" >CEBPA</text>
<text transform="translate(504.10,274.50)" text-anchor="middle" fill="#8a8a8a" style="font-size:3.3px;" >6</text>
<text transform="translate(21.30,280.34)" text-anchor="middle" fill="#6a6a6a" style="font-size:3.5px;" >NRAS</text>
<text transform="translate(504.10,279.74)" text-anchor="middle" fill="#8a8a8a" style="font-size:3.3px;" >7</text>
<text transform="translate(21.30,285.57)" text-anchor="middle" fill="#6a6a6a" style="font-size:3.5px;" >KRAS</text>
<text transform="translate(504.10,284.97)" text-anchor="middle" fill="#8a8a8a" style="font-size:3.3px;" >4</text>
<text transform="translate(21.30,290.81)" text-anchor="middle" fill="#6a6a6a" style="font-size:3.5px;" >CBL</text>
<text transform="translate(504.10,290.21)" text-anchor="middle" fill="#8a8a8a" style="font-size:3.3px;" >3</text>
<text transform="translate(21.30,296.04)" text-anchor="middle" fill="#6a6a6a" style="font-size:3.5px;" >TP53</text>
<text transform="translate(504.10,295.44)" text-anchor="middle" fill="#8a8a8a" style="font-size:3.3px;" >1</text>
<text transform="translate(21.30,301.28)" text-anchor="middle" fill="#6a6a6a" style="font-size:3.5px;" >JAK2</text>
<text transform="translate(504.10,300.68)" text-anchor="middle" fill="#8a8a8a" style="font-size:3.3px;" >4</text>
<text transform="translate(21.30,306.51)" text-anchor="middle" fill="#6a6a6a" style="font-size:3.5px;" >EZH2</text>
<text transform="translate(504.10,305.91)" text-anchor="middle" fill="#8a8a8a" style="font-size:3.3px;" >4</text>
<text transform="translate(21.30,311.74)" text-anchor="middle" fill="#6a6a6a" style="font-size:3.5px;" >NPM1</text>
<text transform="translate(504.10,311.14)" text-anchor="middle" fill="#8a8a8a" style="font-size:3.3px;" >2</text>
<text transform="translate(21.30,316.98)" text-anchor="middle" fill="#6a6a6a" style="font-size:3.5px;" >SETBP1</text>
<text transform="translate(504.10,316.38)" text-anchor="middle" fill="#8a8a8a" style="font-size:3.3px;" >0</text>
<text transform="translate(21.30,322.21)" text-anchor="middle" fill="#6a6a6a" style="font-size:3.5px;" >ZRSR2</text>
<text transform="translate(504.10,321.61)" text-anchor="middle" fill="#8a8a8a" style="font-size:3.3px;" >1</text>
<text transform="translate(21.30,327.45)" text-anchor="middle" fill="#6a6a6a" style="font-size:3.5px;" >MPL</text>
<text transform="translate(504.10,326.85)" text-anchor="middle" fill="#8a8a8a" style="font-size:3.3px;" >1</text>
<text transform="translate(21.30,332.68)" text-anchor="middle" fill="#6a6a6a" style="font-size:3.5px;" >STAG2</text>
<text transform="translate(504.10,332.08)" text-anchor="middle" fill="#8a8a8a" style="font-size:3.3px;" >91</text>
<text transform="translate(82.40,361.70)" text-anchor="start" fill="#000" style="font-size:13.0px;font-weight:bold;" >C</text>
<line x1="117.30" y1="370.20" x2="117.30" y2="468.00" stroke="#111" stroke-width="1.0" />
<line x1="116.80" y1="467.50" x2="242.60" y2="467.50" stroke="#111" stroke-width="1.0" />
<line x1="113.80" y1="462.30" x2="117.30" y2="462.30" stroke="#111" stroke-width="0.9" />
<text transform="translate(110.20,464.65)" text-anchor="end" fill="#222" style="font-size:8.0px;stroke:#222;stroke-width:0.25px;" >0.0</text>
<line x1="113.80" y1="453.50" x2="117.30" y2="453.50" stroke="#111" stroke-width="0.9" />
<text transform="translate(110.20,455.85)" text-anchor="end" fill="#222" style="font-size:8.0px;stroke:#222;stroke-width:0.25px;" >0.1</text>
<line x1="113.80" y1="444.69" x2="117.30" y2="444.69" stroke="#111" stroke-width="0.9" />
<text transform="translate(110.20,447.04)" text-anchor="end" fill="#222" style="font-size:8.0px;stroke:#222;stroke-width:0.25px;" >0.2</text>
<line x1="113.80" y1="435.88" x2="117.30" y2="435.88" stroke="#111" stroke-width="0.9" />
<text transform="translate(110.20,438.24)" text-anchor="end" fill="#222" style="font-size:8.0px;stroke:#222;stroke-width:0.25px;" >0.3</text>
<line x1="113.80" y1="427.08" x2="117.30" y2="427.08" stroke="#111" stroke-width="0.9" />
<text transform="translate(110.20,429.43)" text-anchor="end" fill="#222" style="font-size:8.0px;stroke:#222;stroke-width:0.25px;" >0.4</text>
<line x1="113.80" y1="418.28" x2="117.30" y2="418.28" stroke="#111" stroke-width="0.9" />
<text transform="translate(110.20,420.63)" text-anchor="end" fill="#222" style="font-size:8.0px;stroke:#222;stroke-width:0.25px;" >0.5</text>
<line x1="113.80" y1="409.47" x2="117.30" y2="409.47" stroke="#111" stroke-width="0.9" />
<text transform="translate(110.20,411.82)" text-anchor="end" fill="#222" style="font-size:8.0px;stroke:#222;stroke-width:0.25px;" >0.6</text>
<line x1="113.80" y1="400.67" x2="117.30" y2="400.67" stroke="#111" stroke-width="0.9" />
<text transform="translate(110.20,403.02)" text-anchor="end" fill="#222" style="font-size:8.0px;stroke:#222;stroke-width:0.25px;" >0.7</text>
<line x1="113.80" y1="391.86" x2="117.30" y2="391.86" stroke="#111" stroke-width="0.9" />
<text transform="translate(110.20,394.21)" text-anchor="end" fill="#222" style="font-size:8.0px;stroke:#222;stroke-width:0.25px;" >0.8</text>
<line x1="113.80" y1="383.06" x2="117.30" y2="383.06" stroke="#111" stroke-width="0.9" />
<text transform="translate(110.20,385.41)" text-anchor="end" fill="#222" style="font-size:8.0px;stroke:#222;stroke-width:0.25px;" >0.9</text>
<line x1="113.80" y1="374.25" x2="117.30" y2="374.25" stroke="#111" stroke-width="0.9" />
<text transform="translate(110.20,376.60)" text-anchor="end" fill="#222" style="font-size:8.0px;stroke:#222;stroke-width:0.25px;" >1.0</text>
<line x1="120.90" y1="467.50" x2="120.90" y2="470.60" stroke="#111" stroke-width="0.9" />
<text transform="translate(120.90,482.40)" text-anchor="middle" fill="#222" style="font-size:8.0px;stroke:#222;stroke-width:0.25px;" >0</text>
<line x1="150.05" y1="467.50" x2="150.05" y2="470.60" stroke="#111" stroke-width="0.9" />
<text transform="translate(150.05,482.40)" text-anchor="middle" fill="#222" style="font-size:8.0px;stroke:#222;stroke-width:0.25px;" >10</text>
<line x1="179.20" y1="467.50" x2="179.20" y2="470.60" stroke="#111" stroke-width="0.9" />
<text transform="translate(179.20,482.40)" text-anchor="middle" fill="#222" style="font-size:8.0px;stroke:#222;stroke-width:0.25px;" >20</text>
<line x1="208.35" y1="467.50" x2="208.35" y2="470.60" stroke="#111" stroke-width="0.9" />
<text transform="translate(208.35,482.40)" text-anchor="middle" fill="#222" style="font-size:8.0px;stroke:#222;stroke-width:0.25px;" >30</text>
<line x1="237.50" y1="467.50" x2="237.50" y2="470.60" stroke="#111" stroke-width="0.9" />
<text transform="translate(237.50,482.40)" text-anchor="middle" fill="#222" style="font-size:8.0px;stroke:#222;stroke-width:0.25px;" >40</text>
<text transform="translate(180.00,496.90) scale(0.720,1)" text-anchor="middle" fill="#1a1a1a" style="font-size:10.2px;stroke:#1a1a1a;stroke-width:0.45px;" >Time (months)</text>
<text transform="translate(91.20,418.80) rotate(-90) scale(0.750,1)" text-anchor="middle" fill="#1a1a1a" style="font-size:9.8px;stroke:#1a1a1a;stroke-width:0.45px;" >Survival</text>
<text transform="translate(146.30,376.40)" text-anchor="start" fill="#1e1e1e" style="font-size:6.95px;stroke:#1e1e1e;stroke-width:0.1px;" >Median OS: 19.9 months</text>
<text transform="translate(146.30,388.00)" text-anchor="start" fill="#1e1e1e" style="font-size:6.95px;stroke:#1e1e1e;stroke-width:0.1px;" >Median follow up: 22.1 months</text>
<path d="M121.10,375.20 L123.00,375.20 L123.80,376.20 L124.50,377.70 L125.70,379.20 L126.50,380.40 L128.00,381.50 L129.50,382.30 L131.50,382.70 L132.20,383.80 L133.40,385.80 L134.50,386.90 L136.50,388.10 L138.80,390.00 L141.00,392.00 L143.40,393.50 L145.30,395.40 L146.70,397.00 L148.50,398.50 L149.80,401.50 L151.10,404.10 L152.80,404.50 L158.80,404.50 L160.60,405.80 L162.30,407.10 L164.00,408.40 L165.30,411.00 L166.60,415.30 L168.40,417.10 L177.00,417.10 L178.70,418.40 L179.60,421.00 L180.50,424.80 L182.20,425.70 L183.90,426.60 L185.70,427.90 L187.40,430.00 L224.00,430.00" fill="none" stroke="#4a3560" stroke-width="1.05" stroke-linejoin="miter"/>
<line x1="191.00" y1="429.10" x2="191.00" y2="431.00" stroke="#2e2434" stroke-width="1.0" />
<line x1="194.00" y1="429.10" x2="194.00" y2="431.00" stroke="#2e2434" stroke-width="1.0" />
<line x1="197.00" y1="429.10" x2="197.00" y2="431.00" stroke="#2e2434" stroke-width="1.0" />
<line x1="200.00" y1="429.10" x2="200.00" y2="431.00" stroke="#2e2434" stroke-width="1.0" />
<line x1="203.50" y1="429.10" x2="203.50" y2="431.00" stroke="#2e2434" stroke-width="1.0" />
<line x1="207.00" y1="429.10" x2="207.00" y2="431.00" stroke="#2e2434" stroke-width="1.0" />
<line x1="210.00" y1="429.10" x2="210.00" y2="431.00" stroke="#2e2434" stroke-width="1.0" />
<line x1="213.00" y1="429.10" x2="213.00" y2="431.00" stroke="#2e2434" stroke-width="1.0" />
<line x1="216.50" y1="429.10" x2="216.50" y2="431.00" stroke="#2e2434" stroke-width="1.0" />
<line x1="220.00" y1="429.10" x2="220.00" y2="431.00" stroke="#2e2434" stroke-width="1.0" />
<line x1="223.50" y1="429.10" x2="223.50" y2="431.00" stroke="#2e2434" stroke-width="1.0" />
<line x1="129.80" y1="381.30" x2="129.80" y2="383.30" stroke="#2a2230" stroke-width="1.2" />
<line x1="139.20" y1="389.30" x2="139.20" y2="391.30" stroke="#2a2230" stroke-width="1.2" />
<line x1="151.80" y1="403.40" x2="151.80" y2="405.40" stroke="#2a2230" stroke-width="1.2" />
<line x1="156.20" y1="403.50" x2="156.20" y2="405.50" stroke="#2a2230" stroke-width="1.2" />
<line x1="172.00" y1="416.10" x2="172.00" y2="418.10" stroke="#2a2230" stroke-width="1.2" />
<line x1="175.20" y1="416.10" x2="175.20" y2="418.10" stroke="#2a2230" stroke-width="1.2" />
<text transform="translate(278.00,361.90)" text-anchor="start" fill="#000" style="font-size:13.0px;font-weight:bold;" >D</text>
<line x1="311.70" y1="365.70" x2="311.70" y2="468.00" stroke="#111" stroke-width="1.0" />
<line x1="311.00" y1="467.30" x2="437.40" y2="467.30" stroke="#111" stroke-width="1.0" />
<line x1="308.00" y1="463.00" x2="311.50" y2="463.00" stroke="#111" stroke-width="0.9" />
<text transform="translate(305.20,465.50)" text-anchor="end" fill="#222" style="font-size:8.9px;stroke:#222;stroke-width:0.25px;" >0.0</text>
<line x1="308.00" y1="453.74" x2="311.50" y2="453.74" stroke="#111" stroke-width="0.9" />
<text transform="translate(305.20,456.24)" text-anchor="end" fill="#222" style="font-size:8.9px;stroke:#222;stroke-width:0.25px;" >0.1</text>
<line x1="308.00" y1="444.48" x2="311.50" y2="444.48" stroke="#111" stroke-width="0.9" />
<text transform="translate(305.20,446.98)" text-anchor="end" fill="#222" style="font-size:8.9px;stroke:#222;stroke-width:0.25px;" >0.2</text>
<line x1="308.00" y1="435.22" x2="311.50" y2="435.22" stroke="#111" stroke-width="0.9" />
<text transform="translate(305.20,437.72)" text-anchor="end" fill="#222" style="font-size:8.9px;stroke:#222;stroke-width:0.25px;" >0.3</text>
<line x1="308.00" y1="425.96" x2="311.50" y2="425.96" stroke="#111" stroke-width="0.9" />
<text transform="translate(305.20,428.46)" text-anchor="end" fill="#222" style="font-size:8.9px;stroke:#222;stroke-width:0.25px;" >0.4</text>
<line x1="308.00" y1="416.70" x2="311.50" y2="416.70" stroke="#111" stroke-width="0.9" />
<text transform="translate(305.20,419.20)" text-anchor="end" fill="#222" style="font-size:8.9px;stroke:#222;stroke-width:0.25px;" >0.5</text>
<line x1="308.00" y1="407.44" x2="311.50" y2="407.44" stroke="#111" stroke-width="0.9" />
<text transform="translate(305.20,409.94)" text-anchor="end" fill="#222" style="font-size:8.9px;stroke:#222;stroke-width:0.25px;" >0.6</text>
<line x1="308.00" y1="398.18" x2="311.50" y2="398.18" stroke="#111" stroke-width="0.9" />
<text transform="translate(305.20,400.68)" text-anchor="end" fill="#222" style="font-size:8.9px;stroke:#222;stroke-width:0.25px;" >0.7</text>
<line x1="308.00" y1="388.92" x2="311.50" y2="388.92" stroke="#111" stroke-width="0.9" />
<text transform="translate(305.20,391.42)" text-anchor="end" fill="#222" style="font-size:8.9px;stroke:#222;stroke-width:0.25px;" >0.8</text>
<line x1="308.00" y1="379.66" x2="311.50" y2="379.66" stroke="#111" stroke-width="0.9" />
<text transform="translate(305.20,382.16)" text-anchor="end" fill="#222" style="font-size:8.9px;stroke:#222;stroke-width:0.25px;" >0.9</text>
<line x1="308.00" y1="370.40" x2="311.50" y2="370.40" stroke="#111" stroke-width="0.9" />
<text transform="translate(305.20,372.90)" text-anchor="end" fill="#222" style="font-size:8.9px;stroke:#222;stroke-width:0.25px;" >1.0</text>
<line x1="316.60" y1="467.30" x2="316.60" y2="470.50" stroke="#111" stroke-width="0.9" />
<text transform="translate(316.60,480.80)" text-anchor="middle" fill="#222" style="font-size:8.2px;stroke:#222;stroke-width:0.25px;" >0</text>
<line x1="345.30" y1="467.30" x2="345.30" y2="470.50" stroke="#111" stroke-width="0.9" />
<text transform="translate(345.30,480.80)" text-anchor="middle" fill="#222" style="font-size:8.2px;stroke:#222;stroke-width:0.25px;" >10</text>
<line x1="374.00" y1="467.30" x2="374.00" y2="470.50" stroke="#111" stroke-width="0.9" />
<text transform="translate(374.00,480.80)" text-anchor="middle" fill="#222" style="font-size:8.2px;stroke:#222;stroke-width:0.25px;" >20</text>
<line x1="402.70" y1="467.30" x2="402.70" y2="470.50" stroke="#111" stroke-width="0.9" />
<text transform="translate(402.70,480.80)" text-anchor="middle" fill="#222" style="font-size:8.2px;stroke:#222;stroke-width:0.25px;" >30</text>
<line x1="431.40" y1="467.30" x2="431.40" y2="470.50" stroke="#111" stroke-width="0.9" />
<text transform="translate(431.40,480.80)" text-anchor="middle" fill="#222" style="font-size:8.2px;stroke:#222;stroke-width:0.25px;" >40</text>
<text transform="translate(374.50,495.60) scale(0.720,1)" text-anchor="middle" fill="#1a1a1a" style="font-size:10.2px;stroke:#1a1a1a;stroke-width:0.45px;" >Time (months)</text>
<text transform="translate(285.80,416.70) rotate(-90) scale(0.750,1)" text-anchor="middle" fill="#1a1a1a" style="font-size:9.8px;stroke:#1a1a1a;stroke-width:0.45px;" >Survival</text>
<text transform="translate(376.3,373.3)" fill="#222" style="font-size:8.2px;"><tspan style="font-style:italic">P</tspan> value = .03</text>
<line x1="376.50" y1="382.30" x2="388.00" y2="382.30" stroke="#5f7d99" stroke-width="1.1" />
<text transform="translate(390.80,384.30)" text-anchor="start" fill="#222" style="font-size:8.2px;" >t-MN</text>
<line x1="376.50" y1="393.00" x2="388.00" y2="393.00" stroke="#c4456a" stroke-width="1.1" />
<text transform="translate(390.80,395.60)" text-anchor="start" fill="#222" style="font-size:8.2px;" >De novo MN</text>
<path d="M317.30,370.50 L320.00,372.20 L320.80,374.80 L322.30,376.80 L322.90,377.50 L326.50,377.50 L327.70,379.50 L330.40,380.60 L332.70,381.40 L335.00,383.70 L337.30,386.40 L339.60,389.10 L341.90,390.60 L343.80,391.80 L345.40,394.80 L346.90,397.40 L353.80,397.60 L356.80,399.80 L359.20,402.80 L361.60,407.00 L363.20,410.80 L373.00,410.80 L374.60,415.40 L377.70,419.20 L380.00,420.80 L381.50,423.40 L416.20,423.40" fill="none" stroke="#c4456a" stroke-width="1.05" stroke-linejoin="miter"/>
<path d="M317.30,370.50 L323.10,370.50 L323.10,377.50 L327.30,377.50 L327.50,383.00 L329.20,383.30 L329.20,389.80 L330.00,390.50 L330.00,396.40 L342.00,396.40 L342.00,406.90 L345.40,406.90 L345.40,418.80 L360.80,418.80 L360.80,441.20 L374.60,441.20 L374.60,463.00" fill="none" stroke="#5f7d99" stroke-width="1.15" stroke-linejoin="miter"/>
</svg>
</body></html>
